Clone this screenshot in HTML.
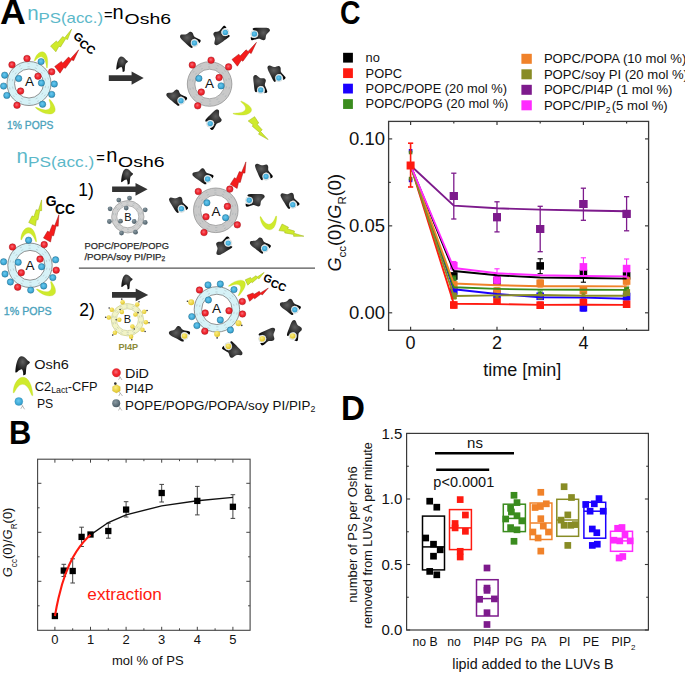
<!DOCTYPE html>
<html><head><meta charset="utf-8"><style>
html,body{margin:0;padding:0;background:#fff;width:685px;height:673px;overflow:hidden}
svg{display:block}
text{font-family:"Liberation Sans",sans-serif}
</style></head><body>
<svg width="685" height="673" viewBox="0 0 685 673" font-family="Liberation Sans, sans-serif">
<rect width="685" height="673" fill="#fff"/>
<g font-weight="bold" fill="#000">
<text x="0" y="23.6" font-size="35.7">A</text>
<text transform="translate(339.9,24.0) scale(0.845,1)" x="0" y="0" font-size="33.6">C</text>
<text transform="translate(9.0,443.9) scale(0.93,1)" x="0" y="0" font-size="33.2">B</text>
<text transform="translate(340.9,419.8) scale(0.96,1)" x="0" y="0" font-size="34.5">D</text>
</g>
<rect x="343.10" y="52.80" width="9.80" height="9.80" fill="#000000" stroke="none" stroke-width="1" />
<text x="365.60" y="62.10" font-size="12.85" fill="#111" text-anchor="start" >no</text>
<rect x="343.10" y="68.25" width="9.80" height="9.80" fill="#ff1a10" stroke="none" stroke-width="1" />
<text x="365.60" y="77.55" font-size="12.85" fill="#111" text-anchor="start" >POPC</text>
<rect x="343.10" y="83.70" width="9.80" height="9.80" fill="#1a00ff" stroke="none" stroke-width="1" />
<text x="365.60" y="93.00" font-size="12.85" fill="#111" text-anchor="start" >POPC/POPE (20 mol %)</text>
<rect x="343.10" y="99.15" width="9.80" height="9.80" fill="#3a8c1e" stroke="none" stroke-width="1" />
<text x="365.60" y="108.45" font-size="12.85" fill="#111" text-anchor="start" >POPC/POPG (20 mol %)</text>
<rect x="521.40" y="53.80" width="10.40" height="10.00" fill="#f0822a" stroke="none" stroke-width="1" />
<text x="543.90" y="63.10" font-size="13.1" fill="#111" text-anchor="start" >POPC/POPA (10 mol %)</text>
<rect x="521.40" y="69.30" width="10.40" height="10.00" fill="#888c25" stroke="none" stroke-width="1" />
<text x="543.90" y="78.60" font-size="13.1" fill="#111" text-anchor="start" >POPC/soy PI (20 mol %)</text>
<rect x="521.40" y="84.80" width="10.40" height="10.00" fill="#7d1a8c" stroke="none" stroke-width="1" />
<text x="543.90" y="94.10" font-size="13.1" fill="#111" text-anchor="start" >POPC/PI4P (1 mol %)</text>
<rect x="521.40" y="100.30" width="10.40" height="10.00" fill="#ff2bff" stroke="none" stroke-width="1" />
<text x="543.90" y="109.60" font-size="13.1" fill="#111" text-anchor="start" >POPC/PIP<tspan font-size="8.5" dy="3.5">2</tspan><tspan dy="-3.5" dx="1.2">(5 mol %)</tspan></text>
<rect x="388.60" y="121.40" width="260.00" height="208.90" fill="none" stroke="#3a3a3a" stroke-width="1.3" />
<line x1="410.60" y1="330.30" x2="410.60" y2="326.70" stroke="#3a3a3a" stroke-width="1.2" />
<line x1="410.60" y1="121.40" x2="410.60" y2="125.00" stroke="#3a3a3a" stroke-width="1.2" />
<line x1="453.80" y1="330.30" x2="453.80" y2="328.10" stroke="#3a3a3a" stroke-width="1.2" />
<line x1="453.80" y1="121.40" x2="453.80" y2="123.60" stroke="#3a3a3a" stroke-width="1.2" />
<line x1="497.00" y1="330.30" x2="497.00" y2="326.70" stroke="#3a3a3a" stroke-width="1.2" />
<line x1="497.00" y1="121.40" x2="497.00" y2="125.00" stroke="#3a3a3a" stroke-width="1.2" />
<line x1="540.20" y1="330.30" x2="540.20" y2="328.10" stroke="#3a3a3a" stroke-width="1.2" />
<line x1="540.20" y1="121.40" x2="540.20" y2="123.60" stroke="#3a3a3a" stroke-width="1.2" />
<line x1="583.40" y1="330.30" x2="583.40" y2="326.70" stroke="#3a3a3a" stroke-width="1.2" />
<line x1="583.40" y1="121.40" x2="583.40" y2="125.00" stroke="#3a3a3a" stroke-width="1.2" />
<line x1="626.60" y1="330.30" x2="626.60" y2="328.10" stroke="#3a3a3a" stroke-width="1.2" />
<line x1="626.60" y1="121.40" x2="626.60" y2="123.60" stroke="#3a3a3a" stroke-width="1.2" />
<line x1="388.60" y1="312.80" x2="392.20" y2="312.80" stroke="#3a3a3a" stroke-width="1.2" />
<line x1="648.60" y1="312.80" x2="645.00" y2="312.80" stroke="#3a3a3a" stroke-width="1.2" />
<line x1="388.60" y1="269.32" x2="390.80" y2="269.32" stroke="#3a3a3a" stroke-width="1.2" />
<line x1="648.60" y1="269.32" x2="646.40" y2="269.32" stroke="#3a3a3a" stroke-width="1.2" />
<line x1="388.60" y1="225.85" x2="392.20" y2="225.85" stroke="#3a3a3a" stroke-width="1.2" />
<line x1="648.60" y1="225.85" x2="645.00" y2="225.85" stroke="#3a3a3a" stroke-width="1.2" />
<line x1="388.60" y1="182.38" x2="390.80" y2="182.38" stroke="#3a3a3a" stroke-width="1.2" />
<line x1="648.60" y1="182.38" x2="646.40" y2="182.38" stroke="#3a3a3a" stroke-width="1.2" />
<line x1="388.60" y1="138.90" x2="392.20" y2="138.90" stroke="#3a3a3a" stroke-width="1.2" />
<line x1="648.60" y1="138.90" x2="645.00" y2="138.90" stroke="#3a3a3a" stroke-width="1.2" />
<text x="410.60" y="348.60" font-size="18" fill="#111" text-anchor="middle" >0</text>
<text x="497.00" y="348.60" font-size="18" fill="#111" text-anchor="middle" >2</text>
<text x="583.40" y="348.60" font-size="18" fill="#111" text-anchor="middle" >4</text>
<text x="385.00" y="319.10" font-size="18.5" fill="#111" text-anchor="end" >0.00</text>
<text x="385.00" y="232.15" font-size="18.5" fill="#111" text-anchor="end" >0.05</text>
<text x="385.00" y="145.20" font-size="18.5" fill="#111" text-anchor="end" >0.10</text>
<text x="522.20" y="375.60" font-size="18" fill="#111" text-anchor="middle" >time [min]</text>
<g transform="translate(341.2,271.6) rotate(-90)" fill="#111" font-size="18.2"><text x="0" y="0"><tspan font-style="italic">G</tspan><tspan font-size="11.5" dy="4.6">cc</tspan><tspan dy="-4.6">(0)/</tspan><tspan font-style="italic">G</tspan><tspan font-size="11.5" dy="4.6">R</tspan><tspan dy="-4.6">(0)</tspan></text></g>
<line x1="453.80" y1="273.00" x2="453.80" y2="280.00" stroke="#000000" stroke-width="1.1" />
<line x1="451.20" y1="273.00" x2="456.40" y2="273.00" stroke="#000000" stroke-width="1.1" />
<line x1="451.20" y1="280.00" x2="456.40" y2="280.00" stroke="#000000" stroke-width="1.1" />
<line x1="497.00" y1="276.50" x2="497.00" y2="284.50" stroke="#000000" stroke-width="1.1" />
<line x1="494.40" y1="276.50" x2="499.60" y2="276.50" stroke="#000000" stroke-width="1.1" />
<line x1="494.40" y1="284.50" x2="499.60" y2="284.50" stroke="#000000" stroke-width="1.1" />
<line x1="540.20" y1="258.80" x2="540.20" y2="273.70" stroke="#000000" stroke-width="1.1" />
<line x1="537.60" y1="258.80" x2="542.80" y2="258.80" stroke="#000000" stroke-width="1.1" />
<line x1="537.60" y1="273.70" x2="542.80" y2="273.70" stroke="#000000" stroke-width="1.1" />
<line x1="583.40" y1="266.60" x2="583.40" y2="282.20" stroke="#000000" stroke-width="1.1" />
<line x1="580.80" y1="266.60" x2="586.00" y2="266.60" stroke="#000000" stroke-width="1.1" />
<line x1="580.80" y1="282.20" x2="586.00" y2="282.20" stroke="#000000" stroke-width="1.1" />
<line x1="626.60" y1="272.00" x2="626.60" y2="280.00" stroke="#000000" stroke-width="1.1" />
<line x1="624.00" y1="272.00" x2="629.20" y2="272.00" stroke="#000000" stroke-width="1.1" />
<line x1="624.00" y1="280.00" x2="629.20" y2="280.00" stroke="#000000" stroke-width="1.1" />
<rect x="450.00" y="272.20" width="7.60" height="7.60" fill="#000000" stroke="none" stroke-width="1" />
<rect x="493.20" y="277.20" width="7.60" height="7.60" fill="#000000" stroke="none" stroke-width="1" />
<rect x="536.40" y="262.10" width="7.60" height="7.60" fill="#000000" stroke="none" stroke-width="1" />
<rect x="579.60" y="269.70" width="7.60" height="7.60" fill="#000000" stroke="none" stroke-width="1" />
<rect x="622.80" y="272.00" width="7.60" height="7.60" fill="#000000" stroke="none" stroke-width="1" />
<line x1="453.80" y1="302.00" x2="453.80" y2="308.00" stroke="#ff1a10" stroke-width="1.1" />
<line x1="451.20" y1="302.00" x2="456.40" y2="302.00" stroke="#ff1a10" stroke-width="1.1" />
<line x1="451.20" y1="308.00" x2="456.40" y2="308.00" stroke="#ff1a10" stroke-width="1.1" />
<line x1="497.00" y1="298.00" x2="497.00" y2="304.00" stroke="#ff1a10" stroke-width="1.1" />
<line x1="494.40" y1="298.00" x2="499.60" y2="298.00" stroke="#ff1a10" stroke-width="1.1" />
<line x1="494.40" y1="304.00" x2="499.60" y2="304.00" stroke="#ff1a10" stroke-width="1.1" />
<line x1="540.20" y1="302.00" x2="540.20" y2="308.00" stroke="#ff1a10" stroke-width="1.1" />
<line x1="537.60" y1="302.00" x2="542.80" y2="302.00" stroke="#ff1a10" stroke-width="1.1" />
<line x1="537.60" y1="308.00" x2="542.80" y2="308.00" stroke="#ff1a10" stroke-width="1.1" />
<line x1="583.40" y1="299.00" x2="583.40" y2="306.00" stroke="#ff1a10" stroke-width="1.1" />
<line x1="580.80" y1="299.00" x2="586.00" y2="299.00" stroke="#ff1a10" stroke-width="1.1" />
<line x1="580.80" y1="306.00" x2="586.00" y2="306.00" stroke="#ff1a10" stroke-width="1.1" />
<line x1="626.60" y1="301.00" x2="626.60" y2="307.00" stroke="#ff1a10" stroke-width="1.1" />
<line x1="624.00" y1="301.00" x2="629.20" y2="301.00" stroke="#ff1a10" stroke-width="1.1" />
<line x1="624.00" y1="307.00" x2="629.20" y2="307.00" stroke="#ff1a10" stroke-width="1.1" />
<rect x="450.00" y="301.20" width="7.60" height="7.60" fill="#ff1a10" stroke="none" stroke-width="1" />
<rect x="493.20" y="297.40" width="7.60" height="7.60" fill="#ff1a10" stroke="none" stroke-width="1" />
<rect x="536.40" y="301.40" width="7.60" height="7.60" fill="#ff1a10" stroke="none" stroke-width="1" />
<rect x="579.60" y="298.70" width="7.60" height="7.60" fill="#ff1a10" stroke="none" stroke-width="1" />
<rect x="622.80" y="300.40" width="7.60" height="7.60" fill="#ff1a10" stroke="none" stroke-width="1" />
<line x1="453.80" y1="288.00" x2="453.80" y2="294.00" stroke="#1a00ff" stroke-width="1.1" />
<line x1="451.20" y1="288.00" x2="456.40" y2="288.00" stroke="#1a00ff" stroke-width="1.1" />
<line x1="451.20" y1="294.00" x2="456.40" y2="294.00" stroke="#1a00ff" stroke-width="1.1" />
<line x1="497.00" y1="291.00" x2="497.00" y2="297.00" stroke="#1a00ff" stroke-width="1.1" />
<line x1="494.40" y1="291.00" x2="499.60" y2="291.00" stroke="#1a00ff" stroke-width="1.1" />
<line x1="494.40" y1="297.00" x2="499.60" y2="297.00" stroke="#1a00ff" stroke-width="1.1" />
<line x1="540.20" y1="293.00" x2="540.20" y2="299.00" stroke="#1a00ff" stroke-width="1.1" />
<line x1="537.60" y1="293.00" x2="542.80" y2="293.00" stroke="#1a00ff" stroke-width="1.1" />
<line x1="537.60" y1="299.00" x2="542.80" y2="299.00" stroke="#1a00ff" stroke-width="1.1" />
<line x1="583.40" y1="305.00" x2="583.40" y2="311.00" stroke="#1a00ff" stroke-width="1.1" />
<line x1="580.80" y1="305.00" x2="586.00" y2="305.00" stroke="#1a00ff" stroke-width="1.1" />
<line x1="580.80" y1="311.00" x2="586.00" y2="311.00" stroke="#1a00ff" stroke-width="1.1" />
<line x1="626.60" y1="293.50" x2="626.60" y2="299.50" stroke="#1a00ff" stroke-width="1.1" />
<line x1="624.00" y1="293.50" x2="629.20" y2="293.50" stroke="#1a00ff" stroke-width="1.1" />
<line x1="624.00" y1="299.50" x2="629.20" y2="299.50" stroke="#1a00ff" stroke-width="1.1" />
<rect x="450.00" y="287.20" width="7.60" height="7.60" fill="#1a00ff" stroke="none" stroke-width="1" />
<rect x="493.20" y="290.20" width="7.60" height="7.60" fill="#1a00ff" stroke="none" stroke-width="1" />
<rect x="536.40" y="292.50" width="7.60" height="7.60" fill="#1a00ff" stroke="none" stroke-width="1" />
<rect x="579.60" y="304.00" width="7.60" height="7.60" fill="#1a00ff" stroke="none" stroke-width="1" />
<rect x="622.80" y="292.70" width="7.60" height="7.60" fill="#1a00ff" stroke="none" stroke-width="1" />
<line x1="453.80" y1="276.00" x2="453.80" y2="282.00" stroke="#3a8c1e" stroke-width="1.1" />
<line x1="451.20" y1="276.00" x2="456.40" y2="276.00" stroke="#3a8c1e" stroke-width="1.1" />
<line x1="451.20" y1="282.00" x2="456.40" y2="282.00" stroke="#3a8c1e" stroke-width="1.1" />
<line x1="497.00" y1="288.00" x2="497.00" y2="294.00" stroke="#3a8c1e" stroke-width="1.1" />
<line x1="494.40" y1="288.00" x2="499.60" y2="288.00" stroke="#3a8c1e" stroke-width="1.1" />
<line x1="494.40" y1="294.00" x2="499.60" y2="294.00" stroke="#3a8c1e" stroke-width="1.1" />
<line x1="540.20" y1="291.00" x2="540.20" y2="297.00" stroke="#3a8c1e" stroke-width="1.1" />
<line x1="537.60" y1="291.00" x2="542.80" y2="291.00" stroke="#3a8c1e" stroke-width="1.1" />
<line x1="537.60" y1="297.00" x2="542.80" y2="297.00" stroke="#3a8c1e" stroke-width="1.1" />
<line x1="583.40" y1="287.00" x2="583.40" y2="293.00" stroke="#3a8c1e" stroke-width="1.1" />
<line x1="580.80" y1="287.00" x2="586.00" y2="287.00" stroke="#3a8c1e" stroke-width="1.1" />
<line x1="580.80" y1="293.00" x2="586.00" y2="293.00" stroke="#3a8c1e" stroke-width="1.1" />
<line x1="626.60" y1="287.00" x2="626.60" y2="292.00" stroke="#3a8c1e" stroke-width="1.1" />
<line x1="624.00" y1="287.00" x2="629.20" y2="287.00" stroke="#3a8c1e" stroke-width="1.1" />
<line x1="624.00" y1="292.00" x2="629.20" y2="292.00" stroke="#3a8c1e" stroke-width="1.1" />
<rect x="451.30" y="276.50" width="5.00" height="5.00" fill="#3a8c1e" stroke="none" stroke-width="1" />
<rect x="494.75" y="288.75" width="4.50" height="4.50" fill="#3a8c1e" stroke="none" stroke-width="1" />
<rect x="538.20" y="292.00" width="4.00" height="4.00" fill="#3a8c1e" stroke="none" stroke-width="1" />
<rect x="581.40" y="288.00" width="4.00" height="4.00" fill="#3a8c1e" stroke="none" stroke-width="1" />
<rect x="624.10" y="287.00" width="5.00" height="5.00" fill="#3a8c1e" stroke="none" stroke-width="1" />
<line x1="453.80" y1="282.00" x2="453.80" y2="288.00" stroke="#f0822a" stroke-width="1.1" />
<line x1="451.20" y1="282.00" x2="456.40" y2="282.00" stroke="#f0822a" stroke-width="1.1" />
<line x1="451.20" y1="288.00" x2="456.40" y2="288.00" stroke="#f0822a" stroke-width="1.1" />
<line x1="497.00" y1="288.00" x2="497.00" y2="295.00" stroke="#f0822a" stroke-width="1.1" />
<line x1="494.40" y1="288.00" x2="499.60" y2="288.00" stroke="#f0822a" stroke-width="1.1" />
<line x1="494.40" y1="295.00" x2="499.60" y2="295.00" stroke="#f0822a" stroke-width="1.1" />
<line x1="540.20" y1="280.00" x2="540.20" y2="287.00" stroke="#f0822a" stroke-width="1.1" />
<line x1="537.60" y1="280.00" x2="542.80" y2="280.00" stroke="#f0822a" stroke-width="1.1" />
<line x1="537.60" y1="287.00" x2="542.80" y2="287.00" stroke="#f0822a" stroke-width="1.1" />
<line x1="583.40" y1="287.00" x2="583.40" y2="294.00" stroke="#f0822a" stroke-width="1.1" />
<line x1="580.80" y1="287.00" x2="586.00" y2="287.00" stroke="#f0822a" stroke-width="1.1" />
<line x1="580.80" y1="294.00" x2="586.00" y2="294.00" stroke="#f0822a" stroke-width="1.1" />
<line x1="626.60" y1="277.00" x2="626.60" y2="285.00" stroke="#f0822a" stroke-width="1.1" />
<line x1="624.00" y1="277.00" x2="629.20" y2="277.00" stroke="#f0822a" stroke-width="1.1" />
<line x1="624.00" y1="285.00" x2="629.20" y2="285.00" stroke="#f0822a" stroke-width="1.1" />
<rect x="450.00" y="281.20" width="7.60" height="7.60" fill="#f0822a" stroke="none" stroke-width="1" />
<rect x="493.20" y="287.50" width="7.60" height="7.60" fill="#f0822a" stroke="none" stroke-width="1" />
<rect x="536.40" y="279.50" width="7.60" height="7.60" fill="#f0822a" stroke="none" stroke-width="1" />
<rect x="579.60" y="286.50" width="7.60" height="7.60" fill="#f0822a" stroke="none" stroke-width="1" />
<rect x="622.80" y="277.20" width="7.60" height="7.60" fill="#f0822a" stroke="none" stroke-width="1" />
<line x1="453.80" y1="293.00" x2="453.80" y2="299.00" stroke="#888c25" stroke-width="1.1" />
<line x1="451.20" y1="293.00" x2="456.40" y2="293.00" stroke="#888c25" stroke-width="1.1" />
<line x1="451.20" y1="299.00" x2="456.40" y2="299.00" stroke="#888c25" stroke-width="1.1" />
<line x1="497.00" y1="294.00" x2="497.00" y2="298.00" stroke="#888c25" stroke-width="1.1" />
<line x1="494.40" y1="294.00" x2="499.60" y2="294.00" stroke="#888c25" stroke-width="1.1" />
<line x1="494.40" y1="298.00" x2="499.60" y2="298.00" stroke="#888c25" stroke-width="1.1" />
<line x1="540.20" y1="294.00" x2="540.20" y2="299.00" stroke="#888c25" stroke-width="1.1" />
<line x1="537.60" y1="294.00" x2="542.80" y2="294.00" stroke="#888c25" stroke-width="1.1" />
<line x1="537.60" y1="299.00" x2="542.80" y2="299.00" stroke="#888c25" stroke-width="1.1" />
<line x1="583.40" y1="293.00" x2="583.40" y2="297.00" stroke="#888c25" stroke-width="1.1" />
<line x1="580.80" y1="293.00" x2="586.00" y2="293.00" stroke="#888c25" stroke-width="1.1" />
<line x1="580.80" y1="297.00" x2="586.00" y2="297.00" stroke="#888c25" stroke-width="1.1" />
<line x1="626.60" y1="290.00" x2="626.60" y2="295.00" stroke="#888c25" stroke-width="1.1" />
<line x1="624.00" y1="290.00" x2="629.20" y2="290.00" stroke="#888c25" stroke-width="1.1" />
<line x1="624.00" y1="295.00" x2="629.20" y2="295.00" stroke="#888c25" stroke-width="1.1" />
<rect x="450.80" y="293.00" width="6.00" height="6.00" fill="#888c25" stroke="none" stroke-width="1" />
<rect x="495.50" y="294.50" width="3.00" height="3.00" fill="#888c25" stroke="none" stroke-width="1" />
<rect x="537.70" y="294.00" width="5.00" height="5.00" fill="#888c25" stroke="none" stroke-width="1" />
<rect x="581.90" y="293.50" width="3.00" height="3.00" fill="#888c25" stroke="none" stroke-width="1" />
<rect x="623.10" y="289.10" width="7.00" height="7.00" fill="#888c25" stroke="none" stroke-width="1" />
<line x1="453.80" y1="173.20" x2="453.80" y2="219.00" stroke="#7d1a8c" stroke-width="1.3" />
<line x1="451.20" y1="173.20" x2="456.40" y2="173.20" stroke="#7d1a8c" stroke-width="1.3" />
<line x1="451.20" y1="219.00" x2="456.40" y2="219.00" stroke="#7d1a8c" stroke-width="1.3" />
<line x1="497.00" y1="201.80" x2="497.00" y2="231.90" stroke="#7d1a8c" stroke-width="1.3" />
<line x1="494.40" y1="201.80" x2="499.60" y2="201.80" stroke="#7d1a8c" stroke-width="1.3" />
<line x1="494.40" y1="231.90" x2="499.60" y2="231.90" stroke="#7d1a8c" stroke-width="1.3" />
<line x1="540.20" y1="206.30" x2="540.20" y2="251.70" stroke="#7d1a8c" stroke-width="1.3" />
<line x1="537.60" y1="206.30" x2="542.80" y2="206.30" stroke="#7d1a8c" stroke-width="1.3" />
<line x1="537.60" y1="251.70" x2="542.80" y2="251.70" stroke="#7d1a8c" stroke-width="1.3" />
<line x1="583.40" y1="188.20" x2="583.40" y2="220.30" stroke="#7d1a8c" stroke-width="1.3" />
<line x1="580.80" y1="188.20" x2="586.00" y2="188.20" stroke="#7d1a8c" stroke-width="1.3" />
<line x1="580.80" y1="220.30" x2="586.00" y2="220.30" stroke="#7d1a8c" stroke-width="1.3" />
<line x1="626.60" y1="196.70" x2="626.60" y2="230.80" stroke="#7d1a8c" stroke-width="1.3" />
<line x1="624.00" y1="196.70" x2="629.20" y2="196.70" stroke="#7d1a8c" stroke-width="1.3" />
<line x1="624.00" y1="230.80" x2="629.20" y2="230.80" stroke="#7d1a8c" stroke-width="1.3" />
<rect x="449.80" y="192.00" width="8.00" height="8.00" fill="#7d1a8c" stroke="none" stroke-width="1" />
<rect x="493.00" y="213.20" width="8.00" height="8.00" fill="#7d1a8c" stroke="none" stroke-width="1" />
<rect x="536.20" y="225.00" width="8.00" height="8.00" fill="#7d1a8c" stroke="none" stroke-width="1" />
<rect x="579.40" y="200.00" width="8.00" height="8.00" fill="#7d1a8c" stroke="none" stroke-width="1" />
<rect x="622.60" y="209.90" width="8.00" height="8.00" fill="#7d1a8c" stroke="none" stroke-width="1" />
<line x1="453.80" y1="261.50" x2="453.80" y2="270.00" stroke="#ff2bff" stroke-width="1.1" />
<line x1="451.20" y1="261.50" x2="456.40" y2="261.50" stroke="#ff2bff" stroke-width="1.1" />
<line x1="451.20" y1="270.00" x2="456.40" y2="270.00" stroke="#ff2bff" stroke-width="1.1" />
<line x1="497.00" y1="268.80" x2="497.00" y2="284.00" stroke="#ff2bff" stroke-width="1.1" />
<line x1="494.40" y1="268.80" x2="499.60" y2="268.80" stroke="#ff2bff" stroke-width="1.1" />
<line x1="494.40" y1="284.00" x2="499.60" y2="284.00" stroke="#ff2bff" stroke-width="1.1" />
<line x1="583.40" y1="257.80" x2="583.40" y2="276.00" stroke="#ff2bff" stroke-width="1.1" />
<line x1="580.80" y1="257.80" x2="586.00" y2="257.80" stroke="#ff2bff" stroke-width="1.1" />
<line x1="580.80" y1="276.00" x2="586.00" y2="276.00" stroke="#ff2bff" stroke-width="1.1" />
<line x1="626.60" y1="259.00" x2="626.60" y2="278.00" stroke="#ff2bff" stroke-width="1.1" />
<line x1="624.00" y1="259.00" x2="629.20" y2="259.00" stroke="#ff2bff" stroke-width="1.1" />
<line x1="624.00" y1="278.00" x2="629.20" y2="278.00" stroke="#ff2bff" stroke-width="1.1" />
<rect x="450.00" y="261.90" width="7.60" height="7.60" fill="#ff2bff" stroke="none" stroke-width="1" />
<rect x="493.20" y="276.20" width="7.60" height="7.60" fill="#ff2bff" stroke="none" stroke-width="1" />
<rect x="579.60" y="263.10" width="7.60" height="7.60" fill="#ff2bff" stroke="none" stroke-width="1" />
<rect x="622.80" y="264.80" width="7.60" height="7.60" fill="#ff2bff" stroke="none" stroke-width="1" />
<polyline points="410.60,165.50 453.80,271.00 497.00,275.30 540.20,277.50 583.40,278.00 626.60,278.60" fill="none" stroke="#000000" stroke-width="1.9" stroke-linejoin="round"/>
<polyline points="410.60,165.50 453.80,303.80 497.00,304.10 540.20,304.90 583.40,304.70 626.60,304.90" fill="none" stroke="#ff1a10" stroke-width="1.9" stroke-linejoin="round"/>
<polyline points="410.60,165.50 453.80,289.30 497.00,294.00 540.20,297.30 583.40,297.60 626.60,298.70" fill="none" stroke="#1a00ff" stroke-width="1.9" stroke-linejoin="round"/>
<polyline points="410.60,165.50 453.80,287.30 497.00,288.90 540.20,289.60 583.40,289.70 626.60,289.90" fill="none" stroke="#3a8c1e" stroke-width="1.9" stroke-linejoin="round"/>
<polyline points="410.60,165.50 453.80,283.50 497.00,285.30 540.20,286.20 583.40,286.20 626.60,286.40" fill="none" stroke="#f0822a" stroke-width="1.9" stroke-linejoin="round"/>
<polyline points="410.60,165.50 453.80,296.00 497.00,295.40 540.20,295.00 583.40,295.80 626.60,295.80" fill="none" stroke="#888c25" stroke-width="1.9" stroke-linejoin="round"/>
<polyline points="410.60,165.50 453.80,205.60 497.00,208.30 540.20,209.60 583.40,210.50 626.60,211.20" fill="none" stroke="#7d1a8c" stroke-width="1.9" stroke-linejoin="round"/>
<polyline points="410.60,165.50 453.80,268.00 497.00,273.20 540.20,275.30 583.40,276.00 626.60,276.40" fill="none" stroke="#ff2bff" stroke-width="1.9" stroke-linejoin="round"/>
<rect x="449.80" y="192.00" width="8.00" height="8.00" fill="#7d1a8c" stroke="none" stroke-width="1" />
<rect x="493.00" y="213.20" width="8.00" height="8.00" fill="#7d1a8c" stroke="none" stroke-width="1" />
<rect x="536.20" y="225.00" width="8.00" height="8.00" fill="#7d1a8c" stroke="none" stroke-width="1" />
<rect x="579.40" y="200.00" width="8.00" height="8.00" fill="#7d1a8c" stroke="none" stroke-width="1" />
<rect x="622.60" y="209.90" width="8.00" height="8.00" fill="#7d1a8c" stroke="none" stroke-width="1" />
<rect x="408.80" y="149.00" width="3.60" height="3.60" fill="#1a00ff" stroke="none" stroke-width="1" />
<rect x="408.80" y="150.70" width="3.60" height="3.60" fill="#3a8c1e" stroke="none" stroke-width="1" />
<rect x="408.80" y="178.60" width="3.60" height="3.60" fill="#1a00ff" stroke="none" stroke-width="1" />
<rect x="408.80" y="176.80" width="3.60" height="3.60" fill="#3a8c1e" stroke="none" stroke-width="1" />
<line x1="410.60" y1="143.20" x2="410.60" y2="187.00" stroke="#ff1a10" stroke-width="1.6" />
<line x1="408.00" y1="143.20" x2="413.20" y2="143.20" stroke="#ff1a10" stroke-width="1.6" />
<line x1="408.00" y1="187.00" x2="413.20" y2="187.00" stroke="#ff1a10" stroke-width="1.6" />
<rect x="406.60" y="161.50" width="8.00" height="8.00" fill="#ff1a10" stroke="none" stroke-width="1" />
<rect x="406.60" y="433.40" width="241.80" height="196.60" fill="none" stroke="#3a3a3a" stroke-width="1.2" />
<line x1="406.60" y1="630.00" x2="410.10" y2="630.00" stroke="#3a3a3a" stroke-width="1.1" />
<line x1="648.40" y1="630.00" x2="644.90" y2="630.00" stroke="#3a3a3a" stroke-width="1.1" />
<line x1="406.60" y1="597.25" x2="408.80" y2="597.25" stroke="#3a3a3a" stroke-width="1.1" />
<line x1="648.40" y1="597.25" x2="646.20" y2="597.25" stroke="#3a3a3a" stroke-width="1.1" />
<line x1="406.60" y1="564.50" x2="410.10" y2="564.50" stroke="#3a3a3a" stroke-width="1.1" />
<line x1="648.40" y1="564.50" x2="644.90" y2="564.50" stroke="#3a3a3a" stroke-width="1.1" />
<line x1="406.60" y1="531.75" x2="408.80" y2="531.75" stroke="#3a3a3a" stroke-width="1.1" />
<line x1="648.40" y1="531.75" x2="646.20" y2="531.75" stroke="#3a3a3a" stroke-width="1.1" />
<line x1="406.60" y1="499.00" x2="410.10" y2="499.00" stroke="#3a3a3a" stroke-width="1.1" />
<line x1="648.40" y1="499.00" x2="644.90" y2="499.00" stroke="#3a3a3a" stroke-width="1.1" />
<line x1="406.60" y1="466.25" x2="408.80" y2="466.25" stroke="#3a3a3a" stroke-width="1.1" />
<line x1="648.40" y1="466.25" x2="646.20" y2="466.25" stroke="#3a3a3a" stroke-width="1.1" />
<line x1="406.60" y1="433.50" x2="410.10" y2="433.50" stroke="#3a3a3a" stroke-width="1.1" />
<line x1="648.40" y1="433.50" x2="644.90" y2="433.50" stroke="#3a3a3a" stroke-width="1.1" />
<text x="402.40" y="635.40" font-size="15" fill="#111" text-anchor="end" >0.0</text>
<text x="402.40" y="569.90" font-size="15" fill="#111" text-anchor="end" >0.5</text>
<text x="402.40" y="504.40" font-size="15" fill="#111" text-anchor="end" >1.0</text>
<text x="402.40" y="438.90" font-size="15" fill="#111" text-anchor="end" >1.5</text>
<line x1="435.00" y1="453.20" x2="514.00" y2="453.20" stroke="#000" stroke-width="2.4" />
<line x1="436.20" y1="469.80" x2="489.20" y2="469.80" stroke="#000" stroke-width="2.4" />
<text x="475.00" y="448.10" font-size="15" fill="#111" text-anchor="middle" >ns</text>
<text x="463.80" y="486.80" font-size="14.5" fill="#111" text-anchor="middle" >p&lt;0.0001</text>
<rect x="422.50" y="516.10" width="22.00" height="53.80" fill="none" stroke="#000000" stroke-width="1.5" />
<line x1="422.50" y1="546.90" x2="444.50" y2="546.90" stroke="#000000" stroke-width="1.5" />
<rect x="449.50" y="509.60" width="21.90" height="40.00" fill="none" stroke="#ff1a10" stroke-width="1.5" />
<line x1="449.50" y1="527.90" x2="471.40" y2="527.90" stroke="#ff1a10" stroke-width="1.5" />
<rect x="476.50" y="579.70" width="21.60" height="36.30" fill="none" stroke="#7d1a8c" stroke-width="1.5" />
<line x1="476.50" y1="598.60" x2="498.10" y2="598.60" stroke="#7d1a8c" stroke-width="1.5" />
<rect x="503.30" y="504.20" width="22.10" height="27.40" fill="none" stroke="#3a8c1e" stroke-width="1.5" />
<line x1="503.30" y1="518.40" x2="525.40" y2="518.40" stroke="#3a8c1e" stroke-width="1.5" />
<rect x="530.10" y="503.00" width="21.80" height="36.50" fill="none" stroke="#f0822a" stroke-width="1.5" />
<line x1="530.10" y1="523.00" x2="551.90" y2="523.00" stroke="#f0822a" stroke-width="1.5" />
<rect x="556.80" y="499.30" width="21.80" height="37.00" fill="none" stroke="#888c25" stroke-width="1.5" />
<line x1="556.80" y1="520.00" x2="578.60" y2="520.00" stroke="#888c25" stroke-width="1.5" />
<rect x="583.90" y="502.30" width="21.80" height="35.90" fill="none" stroke="#1a00ff" stroke-width="1.5" />
<line x1="583.90" y1="511.20" x2="605.70" y2="511.20" stroke="#1a00ff" stroke-width="1.5" />
<rect x="610.50" y="531.30" width="22.00" height="20.00" fill="none" stroke="#ff2bff" stroke-width="1.5" />
<line x1="610.50" y1="540.90" x2="632.50" y2="540.90" stroke="#ff2bff" stroke-width="1.5" />
<rect x="426.35" y="497.85" width="6.70" height="6.70" fill="#000000" stroke="none" stroke-width="1" />
<rect x="433.45" y="503.85" width="6.70" height="6.70" fill="#000000" stroke="none" stroke-width="1" />
<rect x="422.35" y="534.65" width="6.70" height="6.70" fill="#000000" stroke="none" stroke-width="1" />
<rect x="430.15" y="540.85" width="6.70" height="6.70" fill="#000000" stroke="none" stroke-width="1" />
<rect x="436.85" y="546.45" width="6.70" height="6.70" fill="#000000" stroke="none" stroke-width="1" />
<rect x="430.15" y="552.85" width="6.70" height="6.70" fill="#000000" stroke="none" stroke-width="1" />
<rect x="426.35" y="568.05" width="6.70" height="6.70" fill="#000000" stroke="none" stroke-width="1" />
<rect x="433.45" y="571.45" width="6.70" height="6.70" fill="#000000" stroke="none" stroke-width="1" />
<rect x="456.85" y="496.25" width="6.70" height="6.70" fill="#ff1a10" stroke="none" stroke-width="1" />
<rect x="462.05" y="511.65" width="6.70" height="6.70" fill="#ff1a10" stroke="none" stroke-width="1" />
<rect x="451.75" y="520.15" width="6.70" height="6.70" fill="#ff1a10" stroke="none" stroke-width="1" />
<rect x="451.75" y="524.55" width="6.70" height="6.70" fill="#ff1a10" stroke="none" stroke-width="1" />
<rect x="462.05" y="527.95" width="6.70" height="6.70" fill="#ff1a10" stroke="none" stroke-width="1" />
<rect x="456.85" y="547.95" width="6.70" height="6.70" fill="#ff1a10" stroke="none" stroke-width="1" />
<rect x="456.85" y="553.65" width="6.70" height="6.70" fill="#ff1a10" stroke="none" stroke-width="1" />
<rect x="483.65" y="564.65" width="6.70" height="6.70" fill="#7d1a8c" stroke="none" stroke-width="1" />
<rect x="483.65" y="584.75" width="6.70" height="6.70" fill="#7d1a8c" stroke="none" stroke-width="1" />
<rect x="483.65" y="587.05" width="6.70" height="6.70" fill="#7d1a8c" stroke="none" stroke-width="1" />
<rect x="476.25" y="595.95" width="6.70" height="6.70" fill="#7d1a8c" stroke="none" stroke-width="1" />
<rect x="491.05" y="595.55" width="6.70" height="6.70" fill="#7d1a8c" stroke="none" stroke-width="1" />
<rect x="483.65" y="609.35" width="6.70" height="6.70" fill="#7d1a8c" stroke="none" stroke-width="1" />
<rect x="483.65" y="621.15" width="6.70" height="6.70" fill="#7d1a8c" stroke="none" stroke-width="1" />
<rect x="510.65" y="491.95" width="6.70" height="6.70" fill="#3a8c1e" stroke="none" stroke-width="1" />
<rect x="513.65" y="499.25" width="6.70" height="6.70" fill="#3a8c1e" stroke="none" stroke-width="1" />
<rect x="507.25" y="504.95" width="6.70" height="6.70" fill="#3a8c1e" stroke="none" stroke-width="1" />
<rect x="508.05" y="508.65" width="6.70" height="6.70" fill="#3a8c1e" stroke="none" stroke-width="1" />
<rect x="513.65" y="512.35" width="6.70" height="6.70" fill="#3a8c1e" stroke="none" stroke-width="1" />
<rect x="502.35" y="515.65" width="6.70" height="6.70" fill="#3a8c1e" stroke="none" stroke-width="1" />
<rect x="518.45" y="517.55" width="6.70" height="6.70" fill="#3a8c1e" stroke="none" stroke-width="1" />
<rect x="507.25" y="524.25" width="6.70" height="6.70" fill="#3a8c1e" stroke="none" stroke-width="1" />
<rect x="513.65" y="526.45" width="6.70" height="6.70" fill="#3a8c1e" stroke="none" stroke-width="1" />
<rect x="510.65" y="537.95" width="6.70" height="6.70" fill="#3a8c1e" stroke="none" stroke-width="1" />
<rect x="537.45" y="488.95" width="6.70" height="6.70" fill="#f0822a" stroke="none" stroke-width="1" />
<rect x="542.95" y="500.45" width="6.70" height="6.70" fill="#f0822a" stroke="none" stroke-width="1" />
<rect x="531.75" y="504.15" width="6.70" height="6.70" fill="#f0822a" stroke="none" stroke-width="1" />
<rect x="537.05" y="503.15" width="6.70" height="6.70" fill="#f0822a" stroke="none" stroke-width="1" />
<rect x="537.45" y="515.35" width="6.70" height="6.70" fill="#f0822a" stroke="none" stroke-width="1" />
<rect x="539.95" y="522.75" width="6.70" height="6.70" fill="#f0822a" stroke="none" stroke-width="1" />
<rect x="529.55" y="528.65" width="6.70" height="6.70" fill="#f0822a" stroke="none" stroke-width="1" />
<rect x="545.15" y="528.65" width="6.70" height="6.70" fill="#f0822a" stroke="none" stroke-width="1" />
<rect x="534.75" y="534.65" width="6.70" height="6.70" fill="#f0822a" stroke="none" stroke-width="1" />
<rect x="537.45" y="547.75" width="6.70" height="6.70" fill="#f0822a" stroke="none" stroke-width="1" />
<rect x="560.75" y="483.35" width="6.70" height="6.70" fill="#888c25" stroke="none" stroke-width="1" />
<rect x="568.15" y="494.15" width="6.70" height="6.70" fill="#888c25" stroke="none" stroke-width="1" />
<rect x="564.45" y="511.55" width="6.70" height="6.70" fill="#888c25" stroke="none" stroke-width="1" />
<rect x="557.75" y="516.75" width="6.70" height="6.70" fill="#888c25" stroke="none" stroke-width="1" />
<rect x="560.75" y="521.95" width="6.70" height="6.70" fill="#888c25" stroke="none" stroke-width="1" />
<rect x="567.45" y="521.95" width="6.70" height="6.70" fill="#888c25" stroke="none" stroke-width="1" />
<rect x="571.95" y="521.25" width="6.70" height="6.70" fill="#888c25" stroke="none" stroke-width="1" />
<rect x="564.45" y="542.05" width="6.70" height="6.70" fill="#888c25" stroke="none" stroke-width="1" />
<rect x="595.65" y="495.25" width="6.70" height="6.70" fill="#1a00ff" stroke="none" stroke-width="1" />
<rect x="582.35" y="501.15" width="6.70" height="6.70" fill="#1a00ff" stroke="none" stroke-width="1" />
<rect x="590.95" y="500.45" width="6.70" height="6.70" fill="#1a00ff" stroke="none" stroke-width="1" />
<rect x="586.75" y="507.85" width="6.70" height="6.70" fill="#1a00ff" stroke="none" stroke-width="1" />
<rect x="599.85" y="507.85" width="6.70" height="6.70" fill="#1a00ff" stroke="none" stroke-width="1" />
<rect x="588.95" y="525.65" width="6.70" height="6.70" fill="#1a00ff" stroke="none" stroke-width="1" />
<rect x="593.45" y="529.35" width="6.70" height="6.70" fill="#1a00ff" stroke="none" stroke-width="1" />
<rect x="588.95" y="542.05" width="6.70" height="6.70" fill="#1a00ff" stroke="none" stroke-width="1" />
<rect x="593.95" y="540.85" width="6.70" height="6.70" fill="#1a00ff" stroke="none" stroke-width="1" />
<rect x="614.25" y="524.95" width="6.70" height="6.70" fill="#ff2bff" stroke="none" stroke-width="1" />
<rect x="618.65" y="524.15" width="6.70" height="6.70" fill="#ff2bff" stroke="none" stroke-width="1" />
<rect x="621.65" y="531.65" width="6.70" height="6.70" fill="#ff2bff" stroke="none" stroke-width="1" />
<rect x="610.55" y="536.85" width="6.70" height="6.70" fill="#ff2bff" stroke="none" stroke-width="1" />
<rect x="616.45" y="537.55" width="6.70" height="6.70" fill="#ff2bff" stroke="none" stroke-width="1" />
<rect x="626.85" y="537.55" width="6.70" height="6.70" fill="#ff2bff" stroke="none" stroke-width="1" />
<rect x="619.45" y="553.15" width="6.70" height="6.70" fill="#ff2bff" stroke="none" stroke-width="1" />
<rect x="615.75" y="554.65" width="6.70" height="6.70" fill="#ff2bff" stroke="none" stroke-width="1" />
<text x="425.00" y="646.30" font-size="12.2" fill="#111" text-anchor="middle" >no B</text>
<text x="454.00" y="646.30" font-size="12.2" fill="#111" text-anchor="middle" >no</text>
<text x="486.40" y="646.30" font-size="12.2" fill="#111" text-anchor="middle" >PI4P</text>
<text x="513.90" y="646.30" font-size="12.2" fill="#111" text-anchor="middle" >PG</text>
<text x="538.70" y="646.30" font-size="12.2" fill="#111" text-anchor="middle" >PA</text>
<text x="564.70" y="646.30" font-size="12.2" fill="#111" text-anchor="middle" >PI</text>
<text x="590.90" y="646.30" font-size="12.2" fill="#111" text-anchor="middle" >PE</text>
<text x="611.40" y="646.30" font-size="12.2" fill="#111" text-anchor="start" >PIP<tspan font-size="8" dy="4">2</tspan></text>
<text x="532.90" y="669.00" font-size="14.3" fill="#111" text-anchor="middle" >lipid added to the LUVs B</text>
<g transform="rotate(-90)" fill="#111" font-size="12.3" text-anchor="middle"><text x="-534.5" y="357.0" font-size="13">number of PS per Osh6</text><text x="-535.2" y="372.4" font-size="12.65">removed from LUVs A per minute</text></g>
<rect x="37.60" y="459.20" width="212.50" height="171.10" fill="none" stroke="#444" stroke-width="1.1" />
<line x1="54.90" y1="630.30" x2="54.90" y2="626.80" stroke="#444" stroke-width="1.0" />
<line x1="54.90" y1="459.20" x2="54.90" y2="462.70" stroke="#444" stroke-width="1.0" />
<line x1="72.70" y1="630.30" x2="72.70" y2="628.30" stroke="#444" stroke-width="1.0" />
<line x1="72.70" y1="459.20" x2="72.70" y2="461.20" stroke="#444" stroke-width="1.0" />
<line x1="90.50" y1="630.30" x2="90.50" y2="626.80" stroke="#444" stroke-width="1.0" />
<line x1="90.50" y1="459.20" x2="90.50" y2="462.70" stroke="#444" stroke-width="1.0" />
<line x1="108.30" y1="630.30" x2="108.30" y2="628.30" stroke="#444" stroke-width="1.0" />
<line x1="108.30" y1="459.20" x2="108.30" y2="461.20" stroke="#444" stroke-width="1.0" />
<line x1="126.10" y1="630.30" x2="126.10" y2="626.80" stroke="#444" stroke-width="1.0" />
<line x1="126.10" y1="459.20" x2="126.10" y2="462.70" stroke="#444" stroke-width="1.0" />
<line x1="143.90" y1="630.30" x2="143.90" y2="628.30" stroke="#444" stroke-width="1.0" />
<line x1="143.90" y1="459.20" x2="143.90" y2="461.20" stroke="#444" stroke-width="1.0" />
<line x1="161.70" y1="630.30" x2="161.70" y2="626.80" stroke="#444" stroke-width="1.0" />
<line x1="161.70" y1="459.20" x2="161.70" y2="462.70" stroke="#444" stroke-width="1.0" />
<line x1="179.50" y1="630.30" x2="179.50" y2="628.30" stroke="#444" stroke-width="1.0" />
<line x1="179.50" y1="459.20" x2="179.50" y2="461.20" stroke="#444" stroke-width="1.0" />
<line x1="197.30" y1="630.30" x2="197.30" y2="626.80" stroke="#444" stroke-width="1.0" />
<line x1="197.30" y1="459.20" x2="197.30" y2="462.70" stroke="#444" stroke-width="1.0" />
<line x1="215.10" y1="630.30" x2="215.10" y2="628.30" stroke="#444" stroke-width="1.0" />
<line x1="215.10" y1="459.20" x2="215.10" y2="461.20" stroke="#444" stroke-width="1.0" />
<line x1="232.90" y1="630.30" x2="232.90" y2="626.80" stroke="#444" stroke-width="1.0" />
<line x1="232.90" y1="459.20" x2="232.90" y2="462.70" stroke="#444" stroke-width="1.0" />
<line x1="37.60" y1="605.80" x2="39.60" y2="605.80" stroke="#444" stroke-width="1.0" />
<line x1="250.10" y1="605.80" x2="248.10" y2="605.80" stroke="#444" stroke-width="1.0" />
<line x1="37.60" y1="581.30" x2="41.40" y2="581.30" stroke="#444" stroke-width="1.0" />
<line x1="250.10" y1="581.30" x2="246.30" y2="581.30" stroke="#444" stroke-width="1.0" />
<line x1="37.60" y1="556.80" x2="39.60" y2="556.80" stroke="#444" stroke-width="1.0" />
<line x1="250.10" y1="556.80" x2="248.10" y2="556.80" stroke="#444" stroke-width="1.0" />
<line x1="37.60" y1="532.30" x2="41.40" y2="532.30" stroke="#444" stroke-width="1.0" />
<line x1="250.10" y1="532.30" x2="246.30" y2="532.30" stroke="#444" stroke-width="1.0" />
<line x1="37.60" y1="507.80" x2="39.60" y2="507.80" stroke="#444" stroke-width="1.0" />
<line x1="250.10" y1="507.80" x2="248.10" y2="507.80" stroke="#444" stroke-width="1.0" />
<line x1="37.60" y1="483.30" x2="41.40" y2="483.30" stroke="#444" stroke-width="1.0" />
<line x1="250.10" y1="483.30" x2="246.30" y2="483.30" stroke="#444" stroke-width="1.0" />
<text x="54.90" y="644.40" font-size="13" fill="#111" text-anchor="middle" >0</text>
<text x="90.50" y="644.40" font-size="13" fill="#111" text-anchor="middle" >1</text>
<text x="126.10" y="644.40" font-size="13" fill="#111" text-anchor="middle" >2</text>
<text x="161.70" y="644.40" font-size="13" fill="#111" text-anchor="middle" >3</text>
<text x="197.30" y="644.40" font-size="13" fill="#111" text-anchor="middle" >4</text>
<text x="232.90" y="644.40" font-size="13" fill="#111" text-anchor="middle" >5</text>
<text x="147.80" y="664.80" font-size="13" fill="#111" text-anchor="middle" >mol % of PS</text>
<g transform="translate(11.6,577.3) rotate(-90)" fill="#111" font-size="13"><text x="0" y="0"><tspan font-style="italic">G</tspan><tspan font-size="8.2" dy="5.4">cc</tspan><tspan dy="-5.4">(0)/</tspan><tspan font-style="italic">G</tspan><tspan font-size="8.2" dy="5.4">R</tspan><tspan dy="-5.4">(0)</tspan></text></g>
<text x="124.60" y="599.80" font-size="17.2" fill="#ff1a10" text-anchor="middle" >extraction</text>
<line x1="63.80" y1="564.30" x2="63.80" y2="576.50" stroke="#444" stroke-width="1.0" />
<line x1="61.50" y1="564.30" x2="66.10" y2="564.30" stroke="#444" stroke-width="1.0" />
<line x1="61.50" y1="576.50" x2="66.10" y2="576.50" stroke="#444" stroke-width="1.0" />
<line x1="72.70" y1="558.80" x2="72.70" y2="583.00" stroke="#444" stroke-width="1.0" />
<line x1="70.40" y1="558.80" x2="75.00" y2="558.80" stroke="#444" stroke-width="1.0" />
<line x1="70.40" y1="583.00" x2="75.00" y2="583.00" stroke="#444" stroke-width="1.0" />
<line x1="81.60" y1="527.20" x2="81.60" y2="546.50" stroke="#444" stroke-width="1.0" />
<line x1="79.30" y1="527.20" x2="83.90" y2="527.20" stroke="#444" stroke-width="1.0" />
<line x1="79.30" y1="546.50" x2="83.90" y2="546.50" stroke="#444" stroke-width="1.0" />
<line x1="108.30" y1="523.30" x2="108.30" y2="538.20" stroke="#444" stroke-width="1.0" />
<line x1="106.00" y1="523.30" x2="110.60" y2="523.30" stroke="#444" stroke-width="1.0" />
<line x1="106.00" y1="538.20" x2="110.60" y2="538.20" stroke="#444" stroke-width="1.0" />
<line x1="126.10" y1="501.70" x2="126.10" y2="517.00" stroke="#444" stroke-width="1.0" />
<line x1="123.80" y1="501.70" x2="128.40" y2="501.70" stroke="#444" stroke-width="1.0" />
<line x1="123.80" y1="517.00" x2="128.40" y2="517.00" stroke="#444" stroke-width="1.0" />
<line x1="161.70" y1="484.40" x2="161.70" y2="502.00" stroke="#444" stroke-width="1.0" />
<line x1="159.40" y1="484.40" x2="164.00" y2="484.40" stroke="#444" stroke-width="1.0" />
<line x1="159.40" y1="502.00" x2="164.00" y2="502.00" stroke="#444" stroke-width="1.0" />
<line x1="197.30" y1="486.40" x2="197.30" y2="514.90" stroke="#444" stroke-width="1.0" />
<line x1="195.00" y1="486.40" x2="199.60" y2="486.40" stroke="#444" stroke-width="1.0" />
<line x1="195.00" y1="514.90" x2="199.60" y2="514.90" stroke="#444" stroke-width="1.0" />
<line x1="232.90" y1="494.70" x2="232.90" y2="518.40" stroke="#444" stroke-width="1.0" />
<line x1="230.60" y1="494.70" x2="235.20" y2="494.70" stroke="#444" stroke-width="1.0" />
<line x1="230.60" y1="518.40" x2="235.20" y2="518.40" stroke="#444" stroke-width="1.0" />
<polyline points="90.50,534.83 108.30,522.53 126.10,514.87 161.70,505.84 197.30,500.69 232.90,497.37" fill="none" stroke="#111" stroke-width="1.4"/>
<rect x="51.75" y="612.85" width="6.30" height="6.30" fill="#000" stroke="none" stroke-width="1" />
<rect x="60.65" y="567.45" width="6.30" height="6.30" fill="#000" stroke="none" stroke-width="1" />
<rect x="69.55" y="567.85" width="6.30" height="6.30" fill="#000" stroke="none" stroke-width="1" />
<rect x="78.45" y="533.75" width="6.30" height="6.30" fill="#000" stroke="none" stroke-width="1" />
<rect x="87.35" y="531.35" width="6.30" height="6.30" fill="#000" stroke="none" stroke-width="1" />
<rect x="105.15" y="527.85" width="6.30" height="6.30" fill="#000" stroke="none" stroke-width="1" />
<rect x="122.95" y="506.45" width="6.30" height="6.30" fill="#000" stroke="none" stroke-width="1" />
<rect x="158.55" y="489.85" width="6.30" height="6.30" fill="#000" stroke="none" stroke-width="1" />
<rect x="194.15" y="497.75" width="6.30" height="6.30" fill="#000" stroke="none" stroke-width="1" />
<rect x="229.75" y="503.65" width="6.30" height="6.30" fill="#000" stroke="none" stroke-width="1" />
<polyline points="54.90,616.00 56.68,606.45 58.46,598.17 62.02,584.52 65.58,573.74 69.14,565.01 72.70,557.80 76.26,551.73 79.82,546.57 83.38,542.12 86.94,538.24 90.50,534.83" fill="none" stroke="#ff1a10" stroke-width="2.1"/>
<defs>
<radialGradient id="gRed" cx="0.45" cy="0.42" r="0.6"><stop offset="0" stop-color="#f2707c"/><stop offset="0.5" stop-color="#f42a32"/><stop offset="1" stop-color="#e41a22"/></radialGradient>
<radialGradient id="gBlue" cx="0.45" cy="0.42" r="0.6"><stop offset="0" stop-color="#6cc8ee"/><stop offset="0.55" stop-color="#46b0dc"/><stop offset="1" stop-color="#3098c6"/></radialGradient>
<radialGradient id="gGray" cx="0.4" cy="0.35" r="0.65"><stop offset="0" stop-color="#8a9aa2"/><stop offset="1" stop-color="#4a5c66"/></radialGradient>
<radialGradient id="gYel" cx="0.4" cy="0.35" r="0.65"><stop offset="0" stop-color="#fbee80"/><stop offset="1" stop-color="#e0c42a"/></radialGradient>
<radialGradient id="gOsh" cx="0.35" cy="0.3" r="0.75"><stop offset="0" stop-color="#5e5e5e"/><stop offset="0.55" stop-color="#262626"/><stop offset="1" stop-color="#000"/></radialGradient>
<radialGradient id="gOsh2" cx="0.5" cy="0.3" r="0.7"><stop offset="0" stop-color="#606060"/><stop offset="0.6" stop-color="#222"/><stop offset="1" stop-color="#000"/></radialGradient>
</defs>
<text x="27.2" y="19.7" font-size="20.5" fill="#5bb8c9">n</text>
<text x="38.5" y="23.4" font-size="14.2" fill="#5bb8c9" textLength="64.5" lengthAdjust="spacingAndGlyphs">PS(acc.)</text>
<text x="104.0" y="19.6" font-size="14.5" fill="#000" textLength="8.6" lengthAdjust="spacingAndGlyphs">=</text>
<text x="112.6" y="18.9" font-size="20" fill="#000">n</text>
<text x="124.6" y="23.8" font-size="15.4" fill="#000" textLength="46.4" lengthAdjust="spacingAndGlyphs">Osh6</text>
<text x="16.5" y="163.2" font-size="20.5" fill="#5bb8c9">n</text>
<text x="28.0" y="166.9" font-size="14.2" fill="#5bb8c9" textLength="66.2" lengthAdjust="spacingAndGlyphs">PS(acc.)</text>
<text x="96.3" y="163.1" font-size="14.5" fill="#000" textLength="8.6" lengthAdjust="spacingAndGlyphs">=</text>
<text x="106.2" y="162.4" font-size="20" fill="#000">n</text>
<text x="118.1" y="167.3" font-size="15.4" fill="#000" textLength="46.4" lengthAdjust="spacingAndGlyphs">Osh6</text>
<circle cx="29" cy="83.5" r="22" fill="#d6f2f7" stroke="#666" stroke-width="0.7"/>
<line x1="45.63" y1="85.75" x2="45.20" y2="87.91" stroke="#8a9aa0" stroke-width="0.35"/>
<line x1="48.57" y1="86.35" x2="48.14" y2="88.50" stroke="#8a9aa0" stroke-width="0.35"/>
<line x1="43.01" y1="92.74" x2="41.68" y2="94.50" stroke="#8a9aa0" stroke-width="0.35"/>
<line x1="45.40" y1="94.56" x2="44.07" y2="96.31" stroke="#8a9aa0" stroke-width="0.35"/>
<line x1="37.61" y1="97.91" x2="35.65" y2="98.91" stroke="#8a9aa0" stroke-width="0.35"/>
<line x1="38.98" y1="100.58" x2="37.02" y2="101.58" stroke="#8a9aa0" stroke-width="0.35"/>
<line x1="30.51" y1="100.22" x2="28.31" y2="100.27" stroke="#8a9aa0" stroke-width="0.35"/>
<line x1="30.58" y1="103.22" x2="28.38" y2="103.27" stroke="#8a9aa0" stroke-width="0.35"/>
<line x1="23.11" y1="99.22" x2="21.10" y2="98.31" stroke="#8a9aa0" stroke-width="0.35"/>
<line x1="21.87" y1="101.95" x2="19.87" y2="101.04" stroke="#8a9aa0" stroke-width="0.35"/>
<line x1="16.87" y1="95.10" x2="15.46" y2="93.42" stroke="#8a9aa0" stroke-width="0.35"/>
<line x1="14.57" y1="97.03" x2="13.16" y2="95.34" stroke="#8a9aa0" stroke-width="0.35"/>
<line x1="13.04" y1="88.69" x2="12.49" y2="86.56" stroke="#8a9aa0" stroke-width="0.35"/>
<line x1="10.13" y1="89.43" x2="9.59" y2="87.30" stroke="#8a9aa0" stroke-width="0.35"/>
<line x1="12.37" y1="81.25" x2="12.80" y2="79.09" stroke="#8a9aa0" stroke-width="0.35"/>
<line x1="9.43" y1="80.65" x2="9.86" y2="78.50" stroke="#8a9aa0" stroke-width="0.35"/>
<line x1="14.99" y1="74.26" x2="16.32" y2="72.50" stroke="#8a9aa0" stroke-width="0.35"/>
<line x1="12.60" y1="72.44" x2="13.93" y2="70.69" stroke="#8a9aa0" stroke-width="0.35"/>
<line x1="20.39" y1="69.09" x2="22.35" y2="68.09" stroke="#8a9aa0" stroke-width="0.35"/>
<line x1="19.02" y1="66.42" x2="20.98" y2="65.42" stroke="#8a9aa0" stroke-width="0.35"/>
<line x1="27.49" y1="66.78" x2="29.69" y2="66.73" stroke="#8a9aa0" stroke-width="0.35"/>
<line x1="27.42" y1="63.78" x2="29.62" y2="63.73" stroke="#8a9aa0" stroke-width="0.35"/>
<line x1="34.89" y1="67.78" x2="36.90" y2="68.69" stroke="#8a9aa0" stroke-width="0.35"/>
<line x1="36.13" y1="65.05" x2="38.13" y2="65.96" stroke="#8a9aa0" stroke-width="0.35"/>
<line x1="41.13" y1="71.90" x2="42.54" y2="73.58" stroke="#8a9aa0" stroke-width="0.35"/>
<line x1="43.43" y1="69.97" x2="44.84" y2="71.66" stroke="#8a9aa0" stroke-width="0.35"/>
<line x1="44.96" y1="78.31" x2="45.51" y2="80.44" stroke="#8a9aa0" stroke-width="0.35"/>
<line x1="47.87" y1="77.57" x2="48.41" y2="79.70" stroke="#8a9aa0" stroke-width="0.35"/>
<circle cx="29" cy="83.5" r="14.5" fill="#fff" stroke="#666" stroke-width="0.7"/>
<text x="29.4" y="86.40" font-size="13.5" text-anchor="middle" fill="#111">A</text>
<circle cx="27" cy="58.5" r="3.3" fill="url(#gRed)" stroke="#9a1018" stroke-width="0.45"/>
<circle cx="12" cy="64.8" r="3.3" fill="url(#gRed)" stroke="#9a1018" stroke-width="0.45"/>
<circle cx="51.7" cy="71.8" r="3.3" fill="url(#gRed)" stroke="#9a1018" stroke-width="0.45"/>
<circle cx="17" cy="105.3" r="3.3" fill="url(#gRed)" stroke="#9a1018" stroke-width="0.45"/>
<circle cx="38" cy="76.2" r="3.3" fill="url(#gRed)" stroke="#9a1018" stroke-width="0.45"/>
<circle cx="20.6" cy="91.1" r="3.3" fill="url(#gRed)" stroke="#9a1018" stroke-width="0.45"/>
<circle cx="41.1" cy="61.6" r="3.2" fill="url(#gBlue)" stroke="#1d6485" stroke-width="0.45"/>
<circle cx="4.7" cy="75.2" r="3.2" fill="url(#gBlue)" stroke="#1d6485" stroke-width="0.45"/>
<circle cx="3.6" cy="86.1" r="3.2" fill="url(#gBlue)" stroke="#1d6485" stroke-width="0.45"/>
<circle cx="6.8" cy="95.4" r="3.2" fill="url(#gBlue)" stroke="#1d6485" stroke-width="0.45"/>
<circle cx="54.3" cy="84" r="3.2" fill="url(#gBlue)" stroke="#1d6485" stroke-width="0.45"/>
<circle cx="51.7" cy="94.4" r="3.2" fill="url(#gBlue)" stroke="#1d6485" stroke-width="0.45"/>
<circle cx="42.6" cy="104.3" r="3.2" fill="url(#gBlue)" stroke="#1d6485" stroke-width="0.45"/>
<circle cx="18.7" cy="78.5" r="3.2" fill="url(#gBlue)" stroke="#1d6485" stroke-width="0.45"/>
<circle cx="41.4" cy="83" r="3.2" fill="url(#gBlue)" stroke="#1d6485" stroke-width="0.45"/>
<path d="M -9.6,5.6 C -9.4,-1.5 -5.4,-9.3 0,-9.3 C 5.6,-9.3 9.0,-1.5 9.8,9.0 C 9.6,9.6 9.0,9.6 8.6,9.0 C 7.2,5.2 4.4,-2.2 -0.3,-2.2 C -4.4,-2.2 -6.8,3.0 -8.6,6.2 C -9.0,6.8 -9.6,6.6 -9.6,5.6 Z" transform="matrix(0.6969 0.2689 -0.1640 0.7243 41.97 58.74)" fill="#cfea2c" stroke="#b8d020" stroke-width="0.3"/>
<path d="M -9.6,5.6 C -9.4,-1.5 -5.4,-9.3 0,-9.3 C 5.6,-9.3 9.0,-1.5 9.8,9.0 C 9.6,9.6 9.0,9.6 8.6,9.0 C 7.2,5.2 4.4,-2.2 -0.3,-2.2 C -4.4,-2.2 -6.8,3.0 -8.6,6.2 C -9.0,6.8 -9.6,6.6 -9.6,5.6 Z" transform="matrix(0.8385 -0.3356 -0.5850 -0.5831 47.06 108.08)" fill="#cfea2c" stroke="#b8d020" stroke-width="0.3"/>
<polygon points="50.56,46.00 56.40,40.89 57.73,42.47 62.68,36.50 64.61,37.87 71.60,29.20 67.57,39.52 65.69,38.80 60.52,46.99 58.98,46.26 55.84,51.80" fill="#cfea2c" stroke="#9ab010" stroke-width="0.5" stroke-linejoin="miter"/>
<polygon points="54.70,66.51 61.39,61.40 62.72,63.20 68.50,57.08 70.51,58.70 78.70,49.80 73.59,60.70 71.61,59.79 65.42,68.30 63.81,67.40 60.00,73.19" fill="#f51c1c" stroke="#a01010" stroke-width="0.5" stroke-linejoin="miter"/>
<g transform="translate(72.4,37.8) rotate(36)" font-weight="bold" fill="#000"><text x="0" y="0" font-size="11.6">G<tspan dy="2.6">CC</tspan></text></g>
<text x="7.0" y="128.9" font-size="11.8" fill="#4aa2bc" stroke="#4aa2bc" stroke-width="0.35" textLength="46.4" lengthAdjust="spacingAndGlyphs">1% POPS</text>
<polygon points="108.8,75.3 131.6,75.3 131.6,71.39999999999999 143.7,78.1 131.6,84.8 131.6,80.89999999999999 108.8,80.89999999999999" fill="#333"/>
<path d="M -1.5,-9.6 C 1,-9.8 3.6,-7.6 5.2,-5.4 C 6.2,-4.4 7.6,-4.2 7.4,-3.4 C 7.2,-2.4 5.2,-1.4 4.4,-0.2 C 3.6,1.5 3.6,5.5 3.3,8.0 C 3.1,9.2 1.6,9.6 0.7,9.4 C 0.9,7.5 0.6,5 -0.4,3.6 C -1.2,3.0 -3.2,4.2 -4.8,5.6 C -5.6,6.3 -6.8,7.0 -7.1,6.5 C -7.2,4.5 -6.6,-1.0 -5.6,-3.9 C -4.9,-6.2 -3.8,-9.0 -1.5,-9.6 Z" transform="translate(122.0,64.3) scale(0.8)" fill="url(#gOsh2)"/>
<circle cx="209.6" cy="84" r="22.3" fill="#c9c9c9" stroke="#888" stroke-width="0.7"/>
<line x1="226.53" y1="86.31" x2="226.09" y2="88.47" stroke="#8a9aa0" stroke-width="0.35"/>
<line x1="229.47" y1="86.91" x2="229.03" y2="89.06" stroke="#8a9aa0" stroke-width="0.35"/>
<line x1="223.85" y1="93.43" x2="222.52" y2="95.18" stroke="#8a9aa0" stroke-width="0.35"/>
<line x1="226.24" y1="95.24" x2="224.91" y2="96.99" stroke="#8a9aa0" stroke-width="0.35"/>
<line x1="218.35" y1="98.68" x2="216.39" y2="99.68" stroke="#8a9aa0" stroke-width="0.35"/>
<line x1="219.72" y1="101.35" x2="217.76" y2="102.35" stroke="#8a9aa0" stroke-width="0.35"/>
<line x1="211.12" y1="101.02" x2="208.92" y2="101.07" stroke="#8a9aa0" stroke-width="0.35"/>
<line x1="211.19" y1="104.02" x2="208.99" y2="104.07" stroke="#8a9aa0" stroke-width="0.35"/>
<line x1="203.58" y1="99.99" x2="201.58" y2="99.08" stroke="#8a9aa0" stroke-width="0.35"/>
<line x1="202.35" y1="102.72" x2="200.34" y2="101.82" stroke="#8a9aa0" stroke-width="0.35"/>
<line x1="197.24" y1="95.80" x2="195.83" y2="94.11" stroke="#8a9aa0" stroke-width="0.35"/>
<line x1="194.94" y1="97.72" x2="193.53" y2="96.04" stroke="#8a9aa0" stroke-width="0.35"/>
<line x1="193.35" y1="89.26" x2="192.80" y2="87.13" stroke="#8a9aa0" stroke-width="0.35"/>
<line x1="190.44" y1="90.00" x2="189.90" y2="87.87" stroke="#8a9aa0" stroke-width="0.35"/>
<line x1="192.67" y1="81.69" x2="193.11" y2="79.53" stroke="#8a9aa0" stroke-width="0.35"/>
<line x1="189.73" y1="81.09" x2="190.17" y2="78.94" stroke="#8a9aa0" stroke-width="0.35"/>
<line x1="195.35" y1="74.57" x2="196.68" y2="72.82" stroke="#8a9aa0" stroke-width="0.35"/>
<line x1="192.96" y1="72.76" x2="194.29" y2="71.01" stroke="#8a9aa0" stroke-width="0.35"/>
<line x1="200.85" y1="69.32" x2="202.81" y2="68.32" stroke="#8a9aa0" stroke-width="0.35"/>
<line x1="199.48" y1="66.65" x2="201.44" y2="65.65" stroke="#8a9aa0" stroke-width="0.35"/>
<line x1="208.08" y1="66.98" x2="210.28" y2="66.93" stroke="#8a9aa0" stroke-width="0.35"/>
<line x1="208.01" y1="63.98" x2="210.21" y2="63.93" stroke="#8a9aa0" stroke-width="0.35"/>
<line x1="215.62" y1="68.01" x2="217.62" y2="68.92" stroke="#8a9aa0" stroke-width="0.35"/>
<line x1="216.85" y1="65.28" x2="218.86" y2="66.18" stroke="#8a9aa0" stroke-width="0.35"/>
<line x1="221.96" y1="72.20" x2="223.37" y2="73.89" stroke="#8a9aa0" stroke-width="0.35"/>
<line x1="224.26" y1="70.28" x2="225.67" y2="71.96" stroke="#8a9aa0" stroke-width="0.35"/>
<line x1="225.85" y1="78.74" x2="226.40" y2="80.87" stroke="#8a9aa0" stroke-width="0.35"/>
<line x1="228.76" y1="78.00" x2="229.30" y2="80.13" stroke="#8a9aa0" stroke-width="0.35"/>
<circle cx="209.6" cy="84" r="14.8" fill="#fff" stroke="#888" stroke-width="0.7"/>
<text x="209.6" y="88.10" font-size="13.5" text-anchor="middle" fill="#111">A</text>
<circle cx="192.3" cy="65" r="3.3" fill="url(#gRed)" stroke="#9a1018" stroke-width="0.45"/>
<circle cx="211.1" cy="60.2" r="3.3" fill="url(#gRed)" stroke="#9a1018" stroke-width="0.45"/>
<circle cx="228.6" cy="66.9" r="3.3" fill="url(#gRed)" stroke="#9a1018" stroke-width="0.45"/>
<circle cx="197.7" cy="105.8" r="3.3" fill="url(#gRed)" stroke="#9a1018" stroke-width="0.45"/>
<circle cx="219.1" cy="77.6" r="3.3" fill="url(#gRed)" stroke="#9a1018" stroke-width="0.45"/>
<circle cx="201.3" cy="92.1" r="3.3" fill="url(#gRed)" stroke="#9a1018" stroke-width="0.45"/>
<circle cx="198.9" cy="78.4" r="3.2" fill="url(#gBlue)" stroke="#1d6485" stroke-width="0.45"/>
<circle cx="221.1" cy="85.9" r="3.2" fill="url(#gBlue)" stroke="#1d6485" stroke-width="0.45"/>
<polygon points="232.00,59.41 238.80,54.20 240.16,56.04 246.04,49.81 248.07,51.46 256.40,42.40 251.21,53.49 249.20,52.57 242.90,61.22 241.27,60.31 237.40,66.19" fill="#f51c1c" stroke="#a01010" stroke-width="0.5" stroke-linejoin="miter"/>
<path d="M -9.6,5.6 C -9.4,-1.5 -5.4,-9.3 0,-9.3 C 5.6,-9.3 9.0,-1.5 9.8,9.0 C 9.6,9.6 9.0,9.6 8.6,9.0 C 7.2,5.2 4.4,-2.2 -0.3,-2.2 C -4.4,-2.2 -6.8,3.0 -8.6,6.2 C -9.0,6.8 -9.6,6.6 -9.6,5.6 Z" transform="matrix(0.5483 -0.6154 -0.7932 -0.2750 243.22 109.64)" fill="#cfea2c" stroke="#b8d020" stroke-width="0.3"/>
<polygon points="254.62,116.63 258.79,123.06 257.06,124.14 262.20,129.83 260.60,131.53 268.10,139.60 258.56,134.19 259.53,132.46 252.24,126.23 253.17,124.84 248.18,120.97" fill="#cfea2c" stroke="#9ab010" stroke-width="0.5" stroke-linejoin="miter"/>
<g transform="translate(194.4,43) rotate(-20.3) scale(1.0)">
<path d="M -11.4,-10.2 C -11.2,-11.8 -10.3,-12.6 -9.2,-12.4 C -7.8,-12.1 -6.2,-11.2 -4.7,-11.0 C -3.2,-10.9 -1.5,-12.2 -0.2,-12.1 C 1.2,-11.9 1.9,-10.6 1.9,-9.3 C 1.9,-7.8 1.7,-6.6 2.5,-5.6 C 3.8,-4.0 5.8,-2.2 6.6,-0.9 C 6.9,-0.2 6.7,0.5 6.1,0.9 L 4.4,1.9 C 4.6,0.2 4.0,-1.8 3.0,-2.6 A 3.3,3.3 0 0 0 -2.9,-1.6 C -3.1,-0.4 -2.9,0.8 -2.9,1.6 C -2.9,2.6 -3.2,3.5 -3.6,3.9 C -4.2,3.9 -4.8,3.5 -5.2,3.0 C -6.4,1.2 -7.6,-1.5 -8.6,-3.5 C -9.7,-5.6 -11.0,-7.8 -11.4,-10.2 Z" fill="url(#gOsh)"/>
</g>
<circle cx="194.4" cy="43" r="3.6" fill="#fff" stroke="#9aa" stroke-width="0.4"/>
<circle cx="194.4" cy="43" r="2.7" fill="url(#gBlue)"/>
<g transform="translate(225.3,32.4) rotate(261.8) scale(1.0)">
<path d="M -11.4,-10.2 C -11.2,-11.8 -10.3,-12.6 -9.2,-12.4 C -7.8,-12.1 -6.2,-11.2 -4.7,-11.0 C -3.2,-10.9 -1.5,-12.2 -0.2,-12.1 C 1.2,-11.9 1.9,-10.6 1.9,-9.3 C 1.9,-7.8 1.7,-6.6 2.5,-5.6 C 3.8,-4.0 5.8,-2.2 6.6,-0.9 C 6.9,-0.2 6.7,0.5 6.1,0.9 L 4.4,1.9 C 4.6,0.2 4.0,-1.8 3.0,-2.6 A 3.3,3.3 0 0 0 -2.9,-1.6 C -3.1,-0.4 -2.9,0.8 -2.9,1.6 C -2.9,2.6 -3.2,3.5 -3.6,3.9 C -4.2,3.9 -4.8,3.5 -5.2,3.0 C -6.4,1.2 -7.6,-1.5 -8.6,-3.5 C -9.7,-5.6 -11.0,-7.8 -11.4,-10.2 Z" fill="url(#gOsh)"/>
</g>
<circle cx="225.3" cy="32.4" r="3.6" fill="#fff" stroke="#9aa" stroke-width="0.4"/>
<circle cx="225.3" cy="32.4" r="2.7" fill="url(#gBlue)"/>
<g transform="translate(254.4,34) rotate(116.4) scale(1.0)">
<path d="M -11.4,-10.2 C -11.2,-11.8 -10.3,-12.6 -9.2,-12.4 C -7.8,-12.1 -6.2,-11.2 -4.7,-11.0 C -3.2,-10.9 -1.5,-12.2 -0.2,-12.1 C 1.2,-11.9 1.9,-10.6 1.9,-9.3 C 1.9,-7.8 1.7,-6.6 2.5,-5.6 C 3.8,-4.0 5.8,-2.2 6.6,-0.9 C 6.9,-0.2 6.7,0.5 6.1,0.9 L 4.4,1.9 C 4.6,0.2 4.0,-1.8 3.0,-2.6 A 3.3,3.3 0 0 0 -2.9,-1.6 C -3.1,-0.4 -2.9,0.8 -2.9,1.6 C -2.9,2.6 -3.2,3.5 -3.6,3.9 C -4.2,3.9 -4.8,3.5 -5.2,3.0 C -6.4,1.2 -7.6,-1.5 -8.6,-3.5 C -9.7,-5.6 -11.0,-7.8 -11.4,-10.2 Z" fill="url(#gOsh)"/>
</g>
<circle cx="254.4" cy="34" r="3.6" fill="#fff" stroke="#9aa" stroke-width="0.4"/>
<circle cx="254.4" cy="34" r="2.7" fill="url(#gBlue)"/>
<g transform="translate(278.8,78) rotate(0.1) scale(1.0)">
<path d="M -11.4,-10.2 C -11.2,-11.8 -10.3,-12.6 -9.2,-12.4 C -7.8,-12.1 -6.2,-11.2 -4.7,-11.0 C -3.2,-10.9 -1.5,-12.2 -0.2,-12.1 C 1.2,-11.9 1.9,-10.6 1.9,-9.3 C 1.9,-7.8 1.7,-6.6 2.5,-5.6 C 3.8,-4.0 5.8,-2.2 6.6,-0.9 C 6.9,-0.2 6.7,0.5 6.1,0.9 L 4.4,1.9 C 4.6,0.2 4.0,-1.8 3.0,-2.6 A 3.3,3.3 0 0 0 -2.9,-1.6 C -3.1,-0.4 -2.9,0.8 -2.9,1.6 C -2.9,2.6 -3.2,3.5 -3.6,3.9 C -4.2,3.9 -4.8,3.5 -5.2,3.0 C -6.4,1.2 -7.6,-1.5 -8.6,-3.5 C -9.7,-5.6 -11.0,-7.8 -11.4,-10.2 Z" fill="url(#gOsh)"/>
</g>
<circle cx="278.8" cy="78" r="3.6" fill="#fff" stroke="#9aa" stroke-width="0.4"/>
<circle cx="278.8" cy="78" r="2.7" fill="url(#gBlue)"/>
<g transform="translate(260.7,89.9) rotate(19.7) scale(1.0)">
<path d="M -11.4,-10.2 C -11.2,-11.8 -10.3,-12.6 -9.2,-12.4 C -7.8,-12.1 -6.2,-11.2 -4.7,-11.0 C -3.2,-10.9 -1.5,-12.2 -0.2,-12.1 C 1.2,-11.9 1.9,-10.6 1.9,-9.3 C 1.9,-7.8 1.7,-6.6 2.5,-5.6 C 3.8,-4.0 5.8,-2.2 6.6,-0.9 C 6.9,-0.2 6.7,0.5 6.1,0.9 L 4.4,1.9 C 4.6,0.2 4.0,-1.8 3.0,-2.6 A 3.3,3.3 0 0 0 -2.9,-1.6 C -3.1,-0.4 -2.9,0.8 -2.9,1.6 C -2.9,2.6 -3.2,3.5 -3.6,3.9 C -4.2,3.9 -4.8,3.5 -5.2,3.0 C -6.4,1.2 -7.6,-1.5 -8.6,-3.5 C -9.7,-5.6 -11.0,-7.8 -11.4,-10.2 Z" fill="url(#gOsh)"/>
</g>
<circle cx="260.7" cy="89.9" r="3.6" fill="#fff" stroke="#9aa" stroke-width="0.4"/>
<circle cx="260.7" cy="89.9" r="2.7" fill="url(#gBlue)"/>
<g transform="translate(181,100.7) rotate(-23.2) scale(1.0)">
<path d="M -11.4,-10.2 C -11.2,-11.8 -10.3,-12.6 -9.2,-12.4 C -7.8,-12.1 -6.2,-11.2 -4.7,-11.0 C -3.2,-10.9 -1.5,-12.2 -0.2,-12.1 C 1.2,-11.9 1.9,-10.6 1.9,-9.3 C 1.9,-7.8 1.7,-6.6 2.5,-5.6 C 3.8,-4.0 5.8,-2.2 6.6,-0.9 C 6.9,-0.2 6.7,0.5 6.1,0.9 L 4.4,1.9 C 4.6,0.2 4.0,-1.8 3.0,-2.6 A 3.3,3.3 0 0 0 -2.9,-1.6 C -3.1,-0.4 -2.9,0.8 -2.9,1.6 C -2.9,2.6 -3.2,3.5 -3.6,3.9 C -4.2,3.9 -4.8,3.5 -5.2,3.0 C -6.4,1.2 -7.6,-1.5 -8.6,-3.5 C -9.7,-5.6 -11.0,-7.8 -11.4,-10.2 Z" fill="url(#gOsh)"/>
</g>
<circle cx="181" cy="100.7" r="3.6" fill="#fff" stroke="#9aa" stroke-width="0.4"/>
<circle cx="181" cy="100.7" r="2.7" fill="url(#gBlue)"/>
<g transform="translate(210.2,123.6) rotate(71.5) scale(1.0)">
<path d="M -11.4,-10.2 C -11.2,-11.8 -10.3,-12.6 -9.2,-12.4 C -7.8,-12.1 -6.2,-11.2 -4.7,-11.0 C -3.2,-10.9 -1.5,-12.2 -0.2,-12.1 C 1.2,-11.9 1.9,-10.6 1.9,-9.3 C 1.9,-7.8 1.7,-6.6 2.5,-5.6 C 3.8,-4.0 5.8,-2.2 6.6,-0.9 C 6.9,-0.2 6.7,0.5 6.1,0.9 L 4.4,1.9 C 4.6,0.2 4.0,-1.8 3.0,-2.6 A 3.3,3.3 0 0 0 -2.9,-1.6 C -3.1,-0.4 -2.9,0.8 -2.9,1.6 C -2.9,2.6 -3.2,3.5 -3.6,3.9 C -4.2,3.9 -4.8,3.5 -5.2,3.0 C -6.4,1.2 -7.6,-1.5 -8.6,-3.5 C -9.7,-5.6 -11.0,-7.8 -11.4,-10.2 Z" fill="url(#gOsh)"/>
</g>
<circle cx="210.2" cy="123.6" r="3.6" fill="#fff" stroke="#9aa" stroke-width="0.4"/>
<circle cx="210.2" cy="123.6" r="2.7" fill="url(#gBlue)"/>
<circle cx="30" cy="265.3" r="22.2" fill="#d6f2f7" stroke="#666" stroke-width="0.7"/>
<line x1="46.97" y1="267.62" x2="46.53" y2="269.77" stroke="#8a9aa0" stroke-width="0.35"/>
<line x1="49.83" y1="268.20" x2="49.39" y2="270.35" stroke="#8a9aa0" stroke-width="0.35"/>
<line x1="44.28" y1="274.75" x2="42.95" y2="276.50" stroke="#8a9aa0" stroke-width="0.35"/>
<line x1="46.61" y1="276.51" x2="45.28" y2="278.27" stroke="#8a9aa0" stroke-width="0.35"/>
<line x1="38.77" y1="280.01" x2="36.81" y2="281.01" stroke="#8a9aa0" stroke-width="0.35"/>
<line x1="40.10" y1="282.61" x2="38.14" y2="283.61" stroke="#8a9aa0" stroke-width="0.35"/>
<line x1="31.52" y1="282.36" x2="29.32" y2="282.41" stroke="#8a9aa0" stroke-width="0.35"/>
<line x1="31.59" y1="285.28" x2="29.39" y2="285.33" stroke="#8a9aa0" stroke-width="0.35"/>
<line x1="23.97" y1="281.33" x2="21.96" y2="280.42" stroke="#8a9aa0" stroke-width="0.35"/>
<line x1="22.76" y1="283.99" x2="20.76" y2="283.08" stroke="#8a9aa0" stroke-width="0.35"/>
<line x1="17.61" y1="277.12" x2="16.20" y2="275.44" stroke="#8a9aa0" stroke-width="0.35"/>
<line x1="15.37" y1="279.00" x2="13.96" y2="277.31" stroke="#8a9aa0" stroke-width="0.35"/>
<line x1="13.71" y1="270.57" x2="13.17" y2="268.44" stroke="#8a9aa0" stroke-width="0.35"/>
<line x1="10.88" y1="271.29" x2="10.34" y2="269.16" stroke="#8a9aa0" stroke-width="0.35"/>
<line x1="13.03" y1="262.98" x2="13.47" y2="260.83" stroke="#8a9aa0" stroke-width="0.35"/>
<line x1="10.17" y1="262.40" x2="10.61" y2="260.25" stroke="#8a9aa0" stroke-width="0.35"/>
<line x1="15.72" y1="255.85" x2="17.05" y2="254.10" stroke="#8a9aa0" stroke-width="0.35"/>
<line x1="13.39" y1="254.09" x2="14.72" y2="252.33" stroke="#8a9aa0" stroke-width="0.35"/>
<line x1="21.23" y1="250.59" x2="23.19" y2="249.59" stroke="#8a9aa0" stroke-width="0.35"/>
<line x1="19.90" y1="247.99" x2="21.86" y2="246.99" stroke="#8a9aa0" stroke-width="0.35"/>
<line x1="28.48" y1="248.24" x2="30.68" y2="248.19" stroke="#8a9aa0" stroke-width="0.35"/>
<line x1="28.41" y1="245.32" x2="30.61" y2="245.27" stroke="#8a9aa0" stroke-width="0.35"/>
<line x1="36.03" y1="249.27" x2="38.04" y2="250.18" stroke="#8a9aa0" stroke-width="0.35"/>
<line x1="37.24" y1="246.61" x2="39.24" y2="247.52" stroke="#8a9aa0" stroke-width="0.35"/>
<line x1="42.39" y1="253.48" x2="43.80" y2="255.16" stroke="#8a9aa0" stroke-width="0.35"/>
<line x1="44.63" y1="251.60" x2="46.04" y2="253.29" stroke="#8a9aa0" stroke-width="0.35"/>
<line x1="46.29" y1="260.03" x2="46.83" y2="262.16" stroke="#8a9aa0" stroke-width="0.35"/>
<line x1="49.12" y1="259.31" x2="49.66" y2="261.44" stroke="#8a9aa0" stroke-width="0.35"/>
<circle cx="30" cy="265.3" r="14.9" fill="#fff" stroke="#666" stroke-width="0.7"/>
<text x="30" y="270.16" font-size="13.5" text-anchor="middle" fill="#111">A</text>
<circle cx="28.6" cy="240.2" r="3.2" fill="url(#gBlue)" stroke="#1d6485" stroke-width="0.45"/>
<circle cx="3.6" cy="261.8" r="3.2" fill="url(#gBlue)" stroke="#1d6485" stroke-width="0.45"/>
<circle cx="55.6" cy="259.8" r="3.2" fill="url(#gBlue)" stroke="#1d6485" stroke-width="0.45"/>
<circle cx="5" cy="274" r="3.2" fill="url(#gBlue)" stroke="#1d6485" stroke-width="0.45"/>
<circle cx="52.8" cy="277.6" r="3.2" fill="url(#gBlue)" stroke="#1d6485" stroke-width="0.45"/>
<circle cx="10.4" cy="282" r="3.2" fill="url(#gBlue)" stroke="#1d6485" stroke-width="0.45"/>
<circle cx="30.7" cy="290.1" r="3.2" fill="url(#gBlue)" stroke="#1d6485" stroke-width="0.45"/>
<circle cx="43.7" cy="286" r="3.2" fill="url(#gBlue)" stroke="#1d6485" stroke-width="0.45"/>
<circle cx="18.2" cy="262.3" r="3.2" fill="url(#gBlue)" stroke="#1d6485" stroke-width="0.45"/>
<circle cx="41.6" cy="266.7" r="3.2" fill="url(#gBlue)" stroke="#1d6485" stroke-width="0.45"/>
<circle cx="12.5" cy="247" r="3.3" fill="url(#gRed)" stroke="#9a1018" stroke-width="0.45"/>
<circle cx="44.2" cy="244.6" r="3.3" fill="url(#gRed)" stroke="#9a1018" stroke-width="0.45"/>
<circle cx="56.2" cy="270.2" r="3.3" fill="url(#gRed)" stroke="#9a1018" stroke-width="0.45"/>
<circle cx="17.7" cy="287.2" r="3.3" fill="url(#gRed)" stroke="#9a1018" stroke-width="0.45"/>
<circle cx="40" cy="259.1" r="3.3" fill="url(#gRed)" stroke="#9a1018" stroke-width="0.45"/>
<circle cx="21.3" cy="272.7" r="3.3" fill="url(#gRed)" stroke="#9a1018" stroke-width="0.45"/>
<path d="M -9.6,5.6 C -9.4,-1.5 -5.4,-9.3 0,-9.3 C 5.6,-9.3 9.0,-1.5 9.8,9.0 C 9.6,9.6 9.0,9.6 8.6,9.0 C 7.2,5.2 4.4,-2.2 -0.3,-2.2 C -4.4,-2.2 -6.8,3.0 -8.6,6.2 C -9.0,6.8 -9.6,6.6 -9.6,5.6 Z" transform="matrix(0.8144 -0.0184 0.0078 0.7728 28.57 234.79)" fill="#cfea2c" stroke="#b8d020" stroke-width="0.3"/>
<path d="M -9.6,5.6 C -9.4,-1.5 -5.4,-9.3 0,-9.3 C 5.6,-9.3 9.0,-1.5 9.8,9.0 C 9.6,9.6 9.0,9.6 8.6,9.0 C 7.2,5.2 4.4,-2.2 -0.3,-2.2 C -4.4,-2.2 -6.8,3.0 -8.6,6.2 C -9.0,6.8 -9.6,6.6 -9.6,5.6 Z" transform="matrix(0.8519 -0.3183 -0.5112 -0.5918 47.75 290.00)" fill="#cfea2c" stroke="#b8d020" stroke-width="0.3"/>
<polygon points="28.69,222.53 32.11,215.86 33.87,216.80 36.19,209.66 38.41,210.20 41.60,199.90 41.66,210.63 39.72,210.65 38.00,219.87 36.36,219.76 35.51,225.87" fill="#cfea2c" stroke="#9ab010" stroke-width="0.5" stroke-linejoin="miter"/>
<polygon points="43.47,237.97 47.61,231.08 49.43,232.21 52.41,224.75 54.76,225.48 58.90,214.70 58.20,226.17 56.12,226.06 53.62,235.79 51.87,235.56 50.53,242.03" fill="#f51c1c" stroke="#a01010" stroke-width="0.5" stroke-linejoin="miter"/>
<g font-weight="bold" fill="#000"><text x="45.8" y="206.4" font-size="14">G</text><text x="55.0" y="213.9" font-size="13.8">CC</text></g>
<text x="3.8" y="314.5" font-size="11.8" fill="#4aa2bc" stroke="#4aa2bc" stroke-width="0.35" textLength="47.9" lengthAdjust="spacingAndGlyphs">1% POPS</text>
<text x="78.3" y="196.2" font-size="17.5" fill="#000">1)</text>
<polygon points="112.1,186.5 135.5,186.5 135.5,182.9 147.6,189.3 135.5,195.70000000000002 135.5,192.10000000000002 112.1,192.10000000000002" fill="#333"/>
<path d="M -1.5,-9.6 C 1,-9.8 3.6,-7.6 5.2,-5.4 C 6.2,-4.4 7.6,-4.2 7.4,-3.4 C 7.2,-2.4 5.2,-1.4 4.4,-0.2 C 3.6,1.5 3.6,5.5 3.3,8.0 C 3.1,9.2 1.6,9.6 0.7,9.4 C 0.9,7.5 0.6,5 -0.4,3.6 C -1.2,3.0 -3.2,4.2 -4.8,5.6 C -5.6,6.3 -6.8,7.0 -7.1,6.5 C -7.2,4.5 -6.6,-1.0 -5.6,-3.9 C -4.9,-6.2 -3.8,-9.0 -1.5,-9.6 Z" transform="translate(127.0,176.7) scale(0.82)" fill="url(#gOsh2)"/>
<circle cx="127.8" cy="216.8" r="16.2" fill="#d2d2d2" stroke="#999" stroke-width="0.7"/>
<line x1="140.33" y1="218.22" x2="139.89" y2="220.37" stroke="#8a9aa0" stroke-width="0.35"/>
<line x1="142.37" y1="218.63" x2="141.93" y2="220.79" stroke="#8a9aa0" stroke-width="0.35"/>
<line x1="138.47" y1="223.51" x2="137.14" y2="225.27" stroke="#8a9aa0" stroke-width="0.35"/>
<line x1="140.13" y1="224.77" x2="138.80" y2="226.52" stroke="#8a9aa0" stroke-width="0.35"/>
<line x1="134.50" y1="227.48" x2="132.54" y2="228.48" stroke="#8a9aa0" stroke-width="0.35"/>
<line x1="135.45" y1="229.33" x2="133.49" y2="230.33" stroke="#8a9aa0" stroke-width="0.35"/>
<line x1="129.21" y1="229.33" x2="127.01" y2="229.38" stroke="#8a9aa0" stroke-width="0.35"/>
<line x1="129.26" y1="231.41" x2="127.06" y2="231.46" stroke="#8a9aa0" stroke-width="0.35"/>
<line x1="123.63" y1="228.70" x2="121.63" y2="227.79" stroke="#8a9aa0" stroke-width="0.35"/>
<line x1="122.77" y1="230.59" x2="120.77" y2="229.69" stroke="#8a9aa0" stroke-width="0.35"/>
<line x1="118.88" y1="225.71" x2="117.47" y2="224.03" stroke="#8a9aa0" stroke-width="0.35"/>
<line x1="117.29" y1="227.05" x2="115.87" y2="225.36" stroke="#8a9aa0" stroke-width="0.35"/>
<line x1="115.90" y1="220.96" x2="115.36" y2="218.83" stroke="#8a9aa0" stroke-width="0.35"/>
<line x1="113.88" y1="221.47" x2="113.34" y2="219.34" stroke="#8a9aa0" stroke-width="0.35"/>
<line x1="115.27" y1="215.38" x2="115.71" y2="213.23" stroke="#8a9aa0" stroke-width="0.35"/>
<line x1="113.23" y1="214.97" x2="113.67" y2="212.81" stroke="#8a9aa0" stroke-width="0.35"/>
<line x1="117.13" y1="210.09" x2="118.46" y2="208.33" stroke="#8a9aa0" stroke-width="0.35"/>
<line x1="115.47" y1="208.83" x2="116.80" y2="207.08" stroke="#8a9aa0" stroke-width="0.35"/>
<line x1="121.10" y1="206.12" x2="123.06" y2="205.12" stroke="#8a9aa0" stroke-width="0.35"/>
<line x1="120.15" y1="204.27" x2="122.11" y2="203.27" stroke="#8a9aa0" stroke-width="0.35"/>
<line x1="126.39" y1="204.27" x2="128.59" y2="204.22" stroke="#8a9aa0" stroke-width="0.35"/>
<line x1="126.34" y1="202.19" x2="128.54" y2="202.14" stroke="#8a9aa0" stroke-width="0.35"/>
<line x1="131.97" y1="204.90" x2="133.97" y2="205.81" stroke="#8a9aa0" stroke-width="0.35"/>
<line x1="132.83" y1="203.01" x2="134.83" y2="203.91" stroke="#8a9aa0" stroke-width="0.35"/>
<line x1="136.72" y1="207.89" x2="138.13" y2="209.57" stroke="#8a9aa0" stroke-width="0.35"/>
<line x1="138.31" y1="206.55" x2="139.73" y2="208.24" stroke="#8a9aa0" stroke-width="0.35"/>
<line x1="139.70" y1="212.64" x2="140.24" y2="214.77" stroke="#8a9aa0" stroke-width="0.35"/>
<line x1="141.72" y1="212.13" x2="142.26" y2="214.26" stroke="#8a9aa0" stroke-width="0.35"/>
<circle cx="127.8" cy="216.8" r="11.0" fill="#fff" stroke="#999" stroke-width="0.7"/>
<text x="127.8" y="220.76" font-size="11" text-anchor="middle" fill="#111">B</text>
<circle cx="118.8" cy="200.1" r="2.4" fill="url(#gGray)"/>
<circle cx="129.5" cy="198.1" r="2.4" fill="url(#gGray)"/>
<circle cx="110.1" cy="208.8" r="2.4" fill="url(#gGray)"/>
<circle cx="126.2" cy="208.1" r="2.4" fill="url(#gGray)"/>
<circle cx="145.2" cy="209.8" r="2.4" fill="url(#gGray)"/>
<circle cx="109.4" cy="221.5" r="2.4" fill="url(#gGray)"/>
<circle cx="120.5" cy="221.2" r="2.4" fill="url(#gGray)"/>
<circle cx="134.2" cy="221.5" r="2.4" fill="url(#gGray)"/>
<circle cx="145.2" cy="222.4" r="2.4" fill="url(#gGray)"/>
<circle cx="121.5" cy="233.1" r="2.4" fill="url(#gGray)"/>
<circle cx="135.5" cy="232.2" r="2.4" fill="url(#gGray)"/>
<text x="84.6" y="248.8" font-size="9.3" fill="#2a2a2a" stroke="#2a2a2a" stroke-width="0.25" textLength="84.3" lengthAdjust="spacingAndGlyphs">POPC/POPE/POPG</text>
<text x="84.4" y="259.6" font-size="9.4" fill="#2a2a2a" stroke="#2a2a2a" stroke-width="0.25"><tspan textLength="77.2" lengthAdjust="spacingAndGlyphs">/POPA/soy PI/PIP</tspan><tspan font-size="6.6" dy="1.8">2</tspan></text>
<circle cx="215.8" cy="210.3" r="22.3" fill="#c9c9c9" stroke="#888" stroke-width="0.7"/>
<line x1="233.00" y1="212.66" x2="232.57" y2="214.82" stroke="#8a9aa0" stroke-width="0.35"/>
<line x1="235.79" y1="213.23" x2="235.35" y2="215.39" stroke="#8a9aa0" stroke-width="0.35"/>
<line x1="230.27" y1="219.89" x2="228.94" y2="221.65" stroke="#8a9aa0" stroke-width="0.35"/>
<line x1="232.54" y1="221.61" x2="231.21" y2="223.36" stroke="#8a9aa0" stroke-width="0.35"/>
<line x1="224.68" y1="225.22" x2="222.72" y2="226.23" stroke="#8a9aa0" stroke-width="0.35"/>
<line x1="225.97" y1="227.75" x2="224.01" y2="228.75" stroke="#8a9aa0" stroke-width="0.35"/>
<line x1="217.32" y1="227.60" x2="215.12" y2="227.65" stroke="#8a9aa0" stroke-width="0.35"/>
<line x1="217.39" y1="230.44" x2="215.19" y2="230.49" stroke="#8a9aa0" stroke-width="0.35"/>
<line x1="209.67" y1="226.55" x2="207.66" y2="225.64" stroke="#8a9aa0" stroke-width="0.35"/>
<line x1="208.50" y1="229.13" x2="206.49" y2="228.23" stroke="#8a9aa0" stroke-width="0.35"/>
<line x1="203.23" y1="222.28" x2="201.81" y2="220.59" stroke="#8a9aa0" stroke-width="0.35"/>
<line x1="201.05" y1="224.10" x2="199.64" y2="222.41" stroke="#8a9aa0" stroke-width="0.35"/>
<line x1="199.27" y1="215.63" x2="198.73" y2="213.50" stroke="#8a9aa0" stroke-width="0.35"/>
<line x1="196.52" y1="216.33" x2="195.98" y2="214.20" stroke="#8a9aa0" stroke-width="0.35"/>
<line x1="198.60" y1="207.94" x2="199.03" y2="205.78" stroke="#8a9aa0" stroke-width="0.35"/>
<line x1="195.81" y1="207.37" x2="196.25" y2="205.21" stroke="#8a9aa0" stroke-width="0.35"/>
<line x1="201.33" y1="200.71" x2="202.66" y2="198.95" stroke="#8a9aa0" stroke-width="0.35"/>
<line x1="199.06" y1="198.99" x2="200.39" y2="197.24" stroke="#8a9aa0" stroke-width="0.35"/>
<line x1="206.92" y1="195.38" x2="208.88" y2="194.37" stroke="#8a9aa0" stroke-width="0.35"/>
<line x1="205.63" y1="192.85" x2="207.59" y2="191.85" stroke="#8a9aa0" stroke-width="0.35"/>
<line x1="214.28" y1="193.00" x2="216.48" y2="192.95" stroke="#8a9aa0" stroke-width="0.35"/>
<line x1="214.21" y1="190.16" x2="216.41" y2="190.11" stroke="#8a9aa0" stroke-width="0.35"/>
<line x1="221.93" y1="194.05" x2="223.94" y2="194.96" stroke="#8a9aa0" stroke-width="0.35"/>
<line x1="223.10" y1="191.47" x2="225.11" y2="192.37" stroke="#8a9aa0" stroke-width="0.35"/>
<line x1="228.37" y1="198.32" x2="229.79" y2="200.01" stroke="#8a9aa0" stroke-width="0.35"/>
<line x1="230.55" y1="196.50" x2="231.96" y2="198.19" stroke="#8a9aa0" stroke-width="0.35"/>
<line x1="232.33" y1="204.97" x2="232.87" y2="207.10" stroke="#8a9aa0" stroke-width="0.35"/>
<line x1="235.08" y1="204.27" x2="235.62" y2="206.40" stroke="#8a9aa0" stroke-width="0.35"/>
<circle cx="215.8" cy="210.3" r="15.2" fill="#fff" stroke="#888" stroke-width="0.7"/>
<text x="215.9" y="216.00" font-size="13.5" text-anchor="middle" fill="#111">A</text>
<circle cx="198.3" cy="191.5" r="3.3" fill="url(#gRed)" stroke="#9a1018" stroke-width="0.45"/>
<circle cx="229.8" cy="189.1" r="3.3" fill="url(#gRed)" stroke="#9a1018" stroke-width="0.45"/>
<circle cx="237.3" cy="224.8" r="3.3" fill="url(#gRed)" stroke="#9a1018" stroke-width="0.45"/>
<circle cx="204" cy="232.5" r="3.3" fill="url(#gRed)" stroke="#9a1018" stroke-width="0.45"/>
<circle cx="227.4" cy="206.4" r="3.3" fill="url(#gRed)" stroke="#9a1018" stroke-width="0.45"/>
<circle cx="206" cy="216.8" r="3.3" fill="url(#gRed)" stroke="#9a1018" stroke-width="0.45"/>
<circle cx="206.9" cy="202.8" r="3.2" fill="url(#gBlue)" stroke="#1d6485" stroke-width="0.45"/>
<circle cx="225.6" cy="217.7" r="3.2" fill="url(#gBlue)" stroke="#1d6485" stroke-width="0.45"/>
<polygon points="230.29,184.34 234.49,177.68 236.25,178.83 239.33,171.59 241.61,172.36 245.90,161.90 244.96,173.11 242.93,172.96 240.27,182.42 238.56,182.16 237.11,188.46" fill="#f51c1c" stroke="#a01010" stroke-width="0.5" stroke-linejoin="miter"/>
<path d="M -9.6,5.6 C -9.4,-1.5 -5.4,-9.3 0,-9.3 C 5.6,-9.3 9.0,-1.5 9.8,9.0 C 9.6,9.6 9.0,9.6 8.6,9.0 C 7.2,5.2 4.4,-2.2 -0.3,-2.2 C -4.4,-2.2 -6.8,3.0 -8.6,6.2 C -9.0,6.8 -9.6,6.6 -9.6,5.6 Z" transform="matrix(0.8705 0.0988 -0.0421 -0.7811 268.61 222.54)" fill="#cfea2c" stroke="#b8d020" stroke-width="0.3"/>
<polygon points="282.07,224.01 288.51,227.24 287.62,228.94 294.49,231.09 293.99,233.24 303.90,236.20 293.61,236.36 293.57,234.49 284.71,232.92 284.80,231.35 278.93,230.59" fill="#cfea2c" stroke="#9ab010" stroke-width="0.5" stroke-linejoin="miter"/>
<g transform="translate(207.6,179) rotate(-28.8) scale(1.0)">
<path d="M -11.4,-10.2 C -11.2,-11.8 -10.3,-12.6 -9.2,-12.4 C -7.8,-12.1 -6.2,-11.2 -4.7,-11.0 C -3.2,-10.9 -1.5,-12.2 -0.2,-12.1 C 1.2,-11.9 1.9,-10.6 1.9,-9.3 C 1.9,-7.8 1.7,-6.6 2.5,-5.6 C 3.8,-4.0 5.8,-2.2 6.6,-0.9 C 6.9,-0.2 6.7,0.5 6.1,0.9 L 4.4,1.9 C 4.6,0.2 4.0,-1.8 3.0,-2.6 A 3.3,3.3 0 0 0 -2.9,-1.6 C -3.1,-0.4 -2.9,0.8 -2.9,1.6 C -2.9,2.6 -3.2,3.5 -3.6,3.9 C -4.2,3.9 -4.8,3.5 -5.2,3.0 C -6.4,1.2 -7.6,-1.5 -8.6,-3.5 C -9.7,-5.6 -11.0,-7.8 -11.4,-10.2 Z" fill="url(#gOsh)"/>
</g>
<circle cx="207.6" cy="179" r="3.6" fill="#fff" stroke="#9aa" stroke-width="0.4"/>
<circle cx="207.6" cy="179" r="2.7" fill="url(#gBlue)"/>
<g transform="translate(181.4,208.8) rotate(-6.0) scale(1.0)">
<path d="M -11.4,-10.2 C -11.2,-11.8 -10.3,-12.6 -9.2,-12.4 C -7.8,-12.1 -6.2,-11.2 -4.7,-11.0 C -3.2,-10.9 -1.5,-12.2 -0.2,-12.1 C 1.2,-11.9 1.9,-10.6 1.9,-9.3 C 1.9,-7.8 1.7,-6.6 2.5,-5.6 C 3.8,-4.0 5.8,-2.2 6.6,-0.9 C 6.9,-0.2 6.7,0.5 6.1,0.9 L 4.4,1.9 C 4.6,0.2 4.0,-1.8 3.0,-2.6 A 3.3,3.3 0 0 0 -2.9,-1.6 C -3.1,-0.4 -2.9,0.8 -2.9,1.6 C -2.9,2.6 -3.2,3.5 -3.6,3.9 C -4.2,3.9 -4.8,3.5 -5.2,3.0 C -6.4,1.2 -7.6,-1.5 -8.6,-3.5 C -9.7,-5.6 -11.0,-7.8 -11.4,-10.2 Z" fill="url(#gOsh)"/>
</g>
<circle cx="181.4" cy="208.8" r="3.6" fill="#fff" stroke="#9aa" stroke-width="0.4"/>
<circle cx="181.4" cy="208.8" r="2.7" fill="url(#gBlue)"/>
<g transform="translate(266,176.5) rotate(2.2) scale(1.0)">
<path d="M -11.4,-10.2 C -11.2,-11.8 -10.3,-12.6 -9.2,-12.4 C -7.8,-12.1 -6.2,-11.2 -4.7,-11.0 C -3.2,-10.9 -1.5,-12.2 -0.2,-12.1 C 1.2,-11.9 1.9,-10.6 1.9,-9.3 C 1.9,-7.8 1.7,-6.6 2.5,-5.6 C 3.8,-4.0 5.8,-2.2 6.6,-0.9 C 6.9,-0.2 6.7,0.5 6.1,0.9 L 4.4,1.9 C 4.6,0.2 4.0,-1.8 3.0,-2.6 A 3.3,3.3 0 0 0 -2.9,-1.6 C -3.1,-0.4 -2.9,0.8 -2.9,1.6 C -2.9,2.6 -3.2,3.5 -3.6,3.9 C -4.2,3.9 -4.8,3.5 -5.2,3.0 C -6.4,1.2 -7.6,-1.5 -8.6,-3.5 C -9.7,-5.6 -11.0,-7.8 -11.4,-10.2 Z" fill="url(#gOsh)"/>
</g>
<circle cx="266" cy="176.5" r="3.6" fill="#fff" stroke="#9aa" stroke-width="0.4"/>
<circle cx="266" cy="176.5" r="2.7" fill="url(#gBlue)"/>
<g transform="translate(249.2,200.3) rotate(115.9) scale(1.0)">
<path d="M -11.4,-10.2 C -11.2,-11.8 -10.3,-12.6 -9.2,-12.4 C -7.8,-12.1 -6.2,-11.2 -4.7,-11.0 C -3.2,-10.9 -1.5,-12.2 -0.2,-12.1 C 1.2,-11.9 1.9,-10.6 1.9,-9.3 C 1.9,-7.8 1.7,-6.6 2.5,-5.6 C 3.8,-4.0 5.8,-2.2 6.6,-0.9 C 6.9,-0.2 6.7,0.5 6.1,0.9 L 4.4,1.9 C 4.6,0.2 4.0,-1.8 3.0,-2.6 A 3.3,3.3 0 0 0 -2.9,-1.6 C -3.1,-0.4 -2.9,0.8 -2.9,1.6 C -2.9,2.6 -3.2,3.5 -3.6,3.9 C -4.2,3.9 -4.8,3.5 -5.2,3.0 C -6.4,1.2 -7.6,-1.5 -8.6,-3.5 C -9.7,-5.6 -11.0,-7.8 -11.4,-10.2 Z" fill="url(#gOsh)"/>
</g>
<circle cx="249.2" cy="200.3" r="3.6" fill="#fff" stroke="#9aa" stroke-width="0.4"/>
<circle cx="249.2" cy="200.3" r="2.7" fill="url(#gBlue)"/>
<g transform="translate(292.8,204.7) rotate(-5.4) scale(1.0)">
<path d="M -11.4,-10.2 C -11.2,-11.8 -10.3,-12.6 -9.2,-12.4 C -7.8,-12.1 -6.2,-11.2 -4.7,-11.0 C -3.2,-10.9 -1.5,-12.2 -0.2,-12.1 C 1.2,-11.9 1.9,-10.6 1.9,-9.3 C 1.9,-7.8 1.7,-6.6 2.5,-5.6 C 3.8,-4.0 5.8,-2.2 6.6,-0.9 C 6.9,-0.2 6.7,0.5 6.1,0.9 L 4.4,1.9 C 4.6,0.2 4.0,-1.8 3.0,-2.6 A 3.3,3.3 0 0 0 -2.9,-1.6 C -3.1,-0.4 -2.9,0.8 -2.9,1.6 C -2.9,2.6 -3.2,3.5 -3.6,3.9 C -4.2,3.9 -4.8,3.5 -5.2,3.0 C -6.4,1.2 -7.6,-1.5 -8.6,-3.5 C -9.7,-5.6 -11.0,-7.8 -11.4,-10.2 Z" fill="url(#gOsh)"/>
</g>
<circle cx="292.8" cy="204.7" r="3.6" fill="#fff" stroke="#9aa" stroke-width="0.4"/>
<circle cx="292.8" cy="204.7" r="2.7" fill="url(#gBlue)"/>
<g transform="translate(228.2,243.1) rotate(266.5) scale(1.0)">
<path d="M -11.4,-10.2 C -11.2,-11.8 -10.3,-12.6 -9.2,-12.4 C -7.8,-12.1 -6.2,-11.2 -4.7,-11.0 C -3.2,-10.9 -1.5,-12.2 -0.2,-12.1 C 1.2,-11.9 1.9,-10.6 1.9,-9.3 C 1.9,-7.8 1.7,-6.6 2.5,-5.6 C 3.8,-4.0 5.8,-2.2 6.6,-0.9 C 6.9,-0.2 6.7,0.5 6.1,0.9 L 4.4,1.9 C 4.6,0.2 4.0,-1.8 3.0,-2.6 A 3.3,3.3 0 0 0 -2.9,-1.6 C -3.1,-0.4 -2.9,0.8 -2.9,1.6 C -2.9,2.6 -3.2,3.5 -3.6,3.9 C -4.2,3.9 -4.8,3.5 -5.2,3.0 C -6.4,1.2 -7.6,-1.5 -8.6,-3.5 C -9.7,-5.6 -11.0,-7.8 -11.4,-10.2 Z" fill="url(#gOsh)"/>
</g>
<circle cx="228.2" cy="243.1" r="3.6" fill="#fff" stroke="#9aa" stroke-width="0.4"/>
<circle cx="228.2" cy="243.1" r="2.7" fill="url(#gBlue)"/>
<g transform="translate(264.7,248.5) rotate(-24.3) scale(1.0)">
<path d="M -11.4,-10.2 C -11.2,-11.8 -10.3,-12.6 -9.2,-12.4 C -7.8,-12.1 -6.2,-11.2 -4.7,-11.0 C -3.2,-10.9 -1.5,-12.2 -0.2,-12.1 C 1.2,-11.9 1.9,-10.6 1.9,-9.3 C 1.9,-7.8 1.7,-6.6 2.5,-5.6 C 3.8,-4.0 5.8,-2.2 6.6,-0.9 C 6.9,-0.2 6.7,0.5 6.1,0.9 L 4.4,1.9 C 4.6,0.2 4.0,-1.8 3.0,-2.6 A 3.3,3.3 0 0 0 -2.9,-1.6 C -3.1,-0.4 -2.9,0.8 -2.9,1.6 C -2.9,2.6 -3.2,3.5 -3.6,3.9 C -4.2,3.9 -4.8,3.5 -5.2,3.0 C -6.4,1.2 -7.6,-1.5 -8.6,-3.5 C -9.7,-5.6 -11.0,-7.8 -11.4,-10.2 Z" fill="url(#gOsh)"/>
</g>
<circle cx="264.7" cy="248.5" r="3.6" fill="#fff" stroke="#9aa" stroke-width="0.4"/>
<circle cx="264.7" cy="248.5" r="2.7" fill="url(#gBlue)"/>
<line x1="78.90" y1="268.20" x2="315.00" y2="268.20" stroke="#555" stroke-width="1.2" />
<text x="79.3" y="315.8" font-size="17.5" fill="#000">2)</text>
<polygon points="112.0,292.09999999999997 135.7,292.09999999999997 135.7,288.45 148.2,294.9 135.7,301.34999999999997 135.7,297.7 112.0,297.7" fill="#333"/>
<path d="M -1.5,-9.6 C 1,-9.8 3.6,-7.6 5.2,-5.4 C 6.2,-4.4 7.6,-4.2 7.4,-3.4 C 7.2,-2.4 5.2,-1.4 4.4,-0.2 C 3.6,1.5 3.6,5.5 3.3,8.0 C 3.1,9.2 1.6,9.6 0.7,9.4 C 0.9,7.5 0.6,5 -0.4,3.6 C -1.2,3.0 -3.2,4.2 -4.8,5.6 C -5.6,6.3 -6.8,7.0 -7.1,6.5 C -7.2,4.5 -6.6,-1.0 -5.6,-3.9 C -4.9,-6.2 -3.8,-9.0 -1.5,-9.6 Z" transform="translate(126.9,281.9) scale(0.78)" fill="url(#gOsh2)"/>
<circle cx="127.4" cy="319.7" r="16.2" fill="#f2f4c6" stroke="#c8cc90" stroke-width="0.7"/>
<line x1="139.93" y1="321.12" x2="139.49" y2="323.27" stroke="#8a9aa0" stroke-width="0.35"/>
<line x1="141.97" y1="321.53" x2="141.53" y2="323.69" stroke="#8a9aa0" stroke-width="0.35"/>
<line x1="138.07" y1="326.41" x2="136.74" y2="328.17" stroke="#8a9aa0" stroke-width="0.35"/>
<line x1="139.73" y1="327.67" x2="138.40" y2="329.42" stroke="#8a9aa0" stroke-width="0.35"/>
<line x1="134.10" y1="330.38" x2="132.14" y2="331.38" stroke="#8a9aa0" stroke-width="0.35"/>
<line x1="135.05" y1="332.23" x2="133.09" y2="333.23" stroke="#8a9aa0" stroke-width="0.35"/>
<line x1="128.81" y1="332.23" x2="126.61" y2="332.28" stroke="#8a9aa0" stroke-width="0.35"/>
<line x1="128.86" y1="334.31" x2="126.66" y2="334.36" stroke="#8a9aa0" stroke-width="0.35"/>
<line x1="123.23" y1="331.60" x2="121.23" y2="330.69" stroke="#8a9aa0" stroke-width="0.35"/>
<line x1="122.37" y1="333.49" x2="120.37" y2="332.59" stroke="#8a9aa0" stroke-width="0.35"/>
<line x1="118.48" y1="328.61" x2="117.07" y2="326.93" stroke="#8a9aa0" stroke-width="0.35"/>
<line x1="116.89" y1="329.95" x2="115.47" y2="328.26" stroke="#8a9aa0" stroke-width="0.35"/>
<line x1="115.50" y1="323.86" x2="114.96" y2="321.73" stroke="#8a9aa0" stroke-width="0.35"/>
<line x1="113.48" y1="324.37" x2="112.94" y2="322.24" stroke="#8a9aa0" stroke-width="0.35"/>
<line x1="114.87" y1="318.28" x2="115.31" y2="316.13" stroke="#8a9aa0" stroke-width="0.35"/>
<line x1="112.83" y1="317.87" x2="113.27" y2="315.71" stroke="#8a9aa0" stroke-width="0.35"/>
<line x1="116.73" y1="312.99" x2="118.06" y2="311.23" stroke="#8a9aa0" stroke-width="0.35"/>
<line x1="115.07" y1="311.73" x2="116.40" y2="309.98" stroke="#8a9aa0" stroke-width="0.35"/>
<line x1="120.70" y1="309.02" x2="122.66" y2="308.02" stroke="#8a9aa0" stroke-width="0.35"/>
<line x1="119.75" y1="307.17" x2="121.71" y2="306.17" stroke="#8a9aa0" stroke-width="0.35"/>
<line x1="125.99" y1="307.17" x2="128.19" y2="307.12" stroke="#8a9aa0" stroke-width="0.35"/>
<line x1="125.94" y1="305.09" x2="128.14" y2="305.04" stroke="#8a9aa0" stroke-width="0.35"/>
<line x1="131.57" y1="307.80" x2="133.57" y2="308.71" stroke="#8a9aa0" stroke-width="0.35"/>
<line x1="132.43" y1="305.91" x2="134.43" y2="306.81" stroke="#8a9aa0" stroke-width="0.35"/>
<line x1="136.32" y1="310.79" x2="137.73" y2="312.47" stroke="#8a9aa0" stroke-width="0.35"/>
<line x1="137.91" y1="309.45" x2="139.33" y2="311.14" stroke="#8a9aa0" stroke-width="0.35"/>
<line x1="139.30" y1="315.54" x2="139.84" y2="317.67" stroke="#8a9aa0" stroke-width="0.35"/>
<line x1="141.32" y1="315.03" x2="141.86" y2="317.16" stroke="#8a9aa0" stroke-width="0.35"/>
<circle cx="127.4" cy="319.7" r="11.0" fill="#fff" stroke="#c8cc90" stroke-width="0.7"/>
<text x="127.5" y="323.30" font-size="11" text-anchor="middle" fill="#111">B</text>
<circle cx="122.6" cy="302.2" r="2.25" fill="url(#gYel)"/>
<circle cx="121.77" cy="299.16" r="0.8" fill="#333"/>
<circle cx="137.3" cy="304.4" r="2.25" fill="url(#gYel)"/>
<circle cx="139.01" cy="301.76" r="0.8" fill="#333"/>
<circle cx="111.8" cy="309.7" r="2.25" fill="url(#gYel)"/>
<circle cx="109.15" cy="308.00" r="0.8" fill="#333"/>
<circle cx="121.9" cy="312" r="2.25" fill="url(#gYel)"/>
<circle cx="120.07" cy="309.44" r="0.8" fill="#333"/>
<circle cx="135.4" cy="314.4" r="2.25" fill="url(#gYel)"/>
<circle cx="138.03" cy="312.66" r="0.8" fill="#333"/>
<circle cx="144.2" cy="311.8" r="2.25" fill="url(#gYel)"/>
<circle cx="147.05" cy="310.46" r="0.8" fill="#333"/>
<circle cx="108.8" cy="317.6" r="2.25" fill="url(#gYel)"/>
<circle cx="105.67" cy="317.25" r="0.8" fill="#333"/>
<circle cx="119.3" cy="319.7" r="2.25" fill="url(#gYel)"/>
<circle cx="116.15" cy="319.70" r="0.8" fill="#333"/>
<circle cx="145.9" cy="322.3" r="2.25" fill="url(#gYel)"/>
<circle cx="149.02" cy="322.74" r="0.8" fill="#333"/>
<circle cx="132.4" cy="326.5" r="2.25" fill="url(#gYel)"/>
<circle cx="134.27" cy="329.04" r="0.8" fill="#333"/>
<circle cx="142.5" cy="329.8" r="2.25" fill="url(#gYel)"/>
<circle cx="145.12" cy="331.55" r="0.8" fill="#333"/>
<circle cx="114.9" cy="332.8" r="2.25" fill="url(#gYel)"/>
<circle cx="112.73" cy="335.08" r="0.8" fill="#333"/>
<circle cx="131.1" cy="336.7" r="2.25" fill="url(#gYel)"/>
<circle cx="131.77" cy="339.78" r="0.8" fill="#333"/>
<text x="118.4" y="349.6" font-size="9.4" fill="#8b8a3a" font-weight="bold" textLength="19.8" lengthAdjust="spacingAndGlyphs">PI4P</text>
<circle cx="216.9" cy="309.4" r="22.7" fill="#d6f2f7" stroke="#666" stroke-width="0.7"/>
<line x1="234.22" y1="311.79" x2="233.78" y2="313.94" stroke="#8a9aa0" stroke-width="0.35"/>
<line x1="237.16" y1="312.38" x2="236.72" y2="314.54" stroke="#8a9aa0" stroke-width="0.35"/>
<line x1="231.47" y1="319.07" x2="230.14" y2="320.82" stroke="#8a9aa0" stroke-width="0.35"/>
<line x1="233.86" y1="320.88" x2="232.53" y2="322.63" stroke="#8a9aa0" stroke-width="0.35"/>
<line x1="225.83" y1="324.43" x2="223.87" y2="325.43" stroke="#8a9aa0" stroke-width="0.35"/>
<line x1="227.20" y1="327.10" x2="225.24" y2="328.10" stroke="#8a9aa0" stroke-width="0.35"/>
<line x1="218.43" y1="326.82" x2="216.23" y2="326.87" stroke="#8a9aa0" stroke-width="0.35"/>
<line x1="218.50" y1="329.82" x2="216.30" y2="329.87" stroke="#8a9aa0" stroke-width="0.35"/>
<line x1="210.72" y1="325.75" x2="208.71" y2="324.85" stroke="#8a9aa0" stroke-width="0.35"/>
<line x1="209.48" y1="328.49" x2="207.48" y2="327.58" stroke="#8a9aa0" stroke-width="0.35"/>
<line x1="204.23" y1="321.45" x2="202.82" y2="319.77" stroke="#8a9aa0" stroke-width="0.35"/>
<line x1="201.93" y1="323.38" x2="200.52" y2="321.69" stroke="#8a9aa0" stroke-width="0.35"/>
<line x1="200.26" y1="314.76" x2="199.72" y2="312.63" stroke="#8a9aa0" stroke-width="0.35"/>
<line x1="197.35" y1="315.50" x2="196.81" y2="313.37" stroke="#8a9aa0" stroke-width="0.35"/>
<line x1="199.58" y1="307.01" x2="200.02" y2="304.86" stroke="#8a9aa0" stroke-width="0.35"/>
<line x1="196.64" y1="306.42" x2="197.08" y2="304.26" stroke="#8a9aa0" stroke-width="0.35"/>
<line x1="202.33" y1="299.73" x2="203.66" y2="297.98" stroke="#8a9aa0" stroke-width="0.35"/>
<line x1="199.94" y1="297.92" x2="201.27" y2="296.17" stroke="#8a9aa0" stroke-width="0.35"/>
<line x1="207.97" y1="294.37" x2="209.93" y2="293.37" stroke="#8a9aa0" stroke-width="0.35"/>
<line x1="206.60" y1="291.70" x2="208.56" y2="290.70" stroke="#8a9aa0" stroke-width="0.35"/>
<line x1="215.37" y1="291.98" x2="217.57" y2="291.93" stroke="#8a9aa0" stroke-width="0.35"/>
<line x1="215.30" y1="288.98" x2="217.50" y2="288.93" stroke="#8a9aa0" stroke-width="0.35"/>
<line x1="223.08" y1="293.05" x2="225.09" y2="293.95" stroke="#8a9aa0" stroke-width="0.35"/>
<line x1="224.32" y1="290.31" x2="226.32" y2="291.22" stroke="#8a9aa0" stroke-width="0.35"/>
<line x1="229.57" y1="297.35" x2="230.98" y2="299.03" stroke="#8a9aa0" stroke-width="0.35"/>
<line x1="231.87" y1="295.42" x2="233.28" y2="297.11" stroke="#8a9aa0" stroke-width="0.35"/>
<line x1="233.54" y1="304.04" x2="234.08" y2="306.17" stroke="#8a9aa0" stroke-width="0.35"/>
<line x1="236.45" y1="303.30" x2="236.99" y2="305.43" stroke="#8a9aa0" stroke-width="0.35"/>
<circle cx="216.9" cy="309.4" r="15.2" fill="#fff" stroke="#666" stroke-width="0.7"/>
<text x="216.4" y="312.90" font-size="13.5" text-anchor="middle" fill="#111">A</text>
<circle cx="208" cy="284.9" r="3.2" fill="url(#gBlue)" stroke="#1d6485" stroke-width="0.45"/>
<circle cx="220.3" cy="284" r="3.2" fill="url(#gBlue)" stroke="#1d6485" stroke-width="0.45"/>
<circle cx="234" cy="289.6" r="3.2" fill="url(#gBlue)" stroke="#1d6485" stroke-width="0.45"/>
<circle cx="191.8" cy="316.6" r="3.2" fill="url(#gBlue)" stroke="#1d6485" stroke-width="0.45"/>
<circle cx="196.9" cy="325.6" r="3.2" fill="url(#gBlue)" stroke="#1d6485" stroke-width="0.45"/>
<circle cx="230.4" cy="330" r="3.2" fill="url(#gBlue)" stroke="#1d6485" stroke-width="0.45"/>
<circle cx="208.4" cy="300" r="3.2" fill="url(#gBlue)" stroke="#1d6485" stroke-width="0.45"/>
<circle cx="220.3" cy="320" r="3.2" fill="url(#gBlue)" stroke="#1d6485" stroke-width="0.45"/>
<circle cx="199.5" cy="290" r="3.3" fill="url(#gRed)" stroke="#9a1018" stroke-width="0.45"/>
<circle cx="242.3" cy="301.5" r="3.3" fill="url(#gRed)" stroke="#9a1018" stroke-width="0.45"/>
<circle cx="242.5" cy="314" r="3.3" fill="url(#gRed)" stroke="#9a1018" stroke-width="0.45"/>
<circle cx="204.8" cy="331.2" r="3.3" fill="url(#gRed)" stroke="#9a1018" stroke-width="0.45"/>
<circle cx="205.2" cy="313" r="3.3" fill="url(#gRed)" stroke="#9a1018" stroke-width="0.45"/>
<circle cx="229" cy="310.7" r="3.3" fill="url(#gRed)" stroke="#9a1018" stroke-width="0.45"/>
<circle cx="191.2" cy="302.3" r="3.0" fill="url(#gYel)"/>
<circle cx="187.44" cy="301.26" r="0.8" fill="#333"/>
<circle cx="238.5" cy="323.3" r="3.0" fill="url(#gYel)"/>
<circle cx="241.78" cy="325.41" r="0.8" fill="#333"/>
<circle cx="217.1" cy="334" r="3.0" fill="url(#gYel)"/>
<circle cx="217.13" cy="337.90" r="0.8" fill="#333"/>
<path d="M -9.6,5.6 C -9.4,-1.5 -5.4,-9.3 0,-9.3 C 5.6,-9.3 9.0,-1.5 9.8,9.0 C 9.6,9.6 9.0,9.6 8.6,9.0 C 7.2,5.2 4.4,-2.2 -0.3,-2.2 C -4.4,-2.2 -6.8,3.0 -8.6,6.2 C -9.0,6.8 -9.6,6.6 -9.6,5.6 Z" transform="matrix(0.6254 0.4255 -0.6010 0.5807 238.21 286.40)" fill="#cfea2c" stroke="#b8d020" stroke-width="0.3"/>
<polygon points="245.25,279.83 250.57,277.45 251.18,278.88 256.06,275.68 257.15,277.09 264.10,272.40 258.91,278.93 257.72,278.00 252.19,282.75 251.25,281.88 247.75,285.17" fill="#cfea2c" stroke="#9ab010" stroke-width="0.5" stroke-linejoin="miter"/>
<polygon points="247.16,295.29 253.15,292.95 253.74,294.56 259.28,291.29 260.41,292.90 268.30,288.10 262.25,295.02 260.99,293.93 254.65,298.87 253.66,297.87 249.64,301.31" fill="#f51c1c" stroke="#a01010" stroke-width="0.5" stroke-linejoin="miter"/>
<g transform="translate(262.6,280.6) rotate(22)" font-weight="bold" fill="#000"><text x="0" y="0" font-size="11.0">G<tspan dy="2.4">CC</tspan></text></g>
<g transform="translate(184.5,336) rotate(-35.1) scale(1.0)">
<path d="M -11.4,-10.2 C -11.2,-11.8 -10.3,-12.6 -9.2,-12.4 C -7.8,-12.1 -6.2,-11.2 -4.7,-11.0 C -3.2,-10.9 -1.5,-12.2 -0.2,-12.1 C 1.2,-11.9 1.9,-10.6 1.9,-9.3 C 1.9,-7.8 1.7,-6.6 2.5,-5.6 C 3.8,-4.0 5.8,-2.2 6.6,-0.9 C 6.9,-0.2 6.7,0.5 6.1,0.9 L 4.4,1.9 C 4.6,0.2 4.0,-1.8 3.0,-2.6 A 3.3,3.3 0 0 0 -2.9,-1.6 C -3.1,-0.4 -2.9,0.8 -2.9,1.6 C -2.9,2.6 -3.2,3.5 -3.6,3.9 C -4.2,3.9 -4.8,3.5 -5.2,3.0 C -6.4,1.2 -7.6,-1.5 -8.6,-3.5 C -9.7,-5.6 -11.0,-7.8 -11.4,-10.2 Z" fill="url(#gOsh)"/>
</g>
<circle cx="184.5" cy="336" r="3.6" fill="#fff" stroke="#9aa" stroke-width="0.4"/>
<circle cx="184.5" cy="336" r="2.8" fill="url(#gYel)"/>
<g transform="translate(228.4,346.2) rotate(162.1) scale(1.0)">
<path d="M -11.4,-10.2 C -11.2,-11.8 -10.3,-12.6 -9.2,-12.4 C -7.8,-12.1 -6.2,-11.2 -4.7,-11.0 C -3.2,-10.9 -1.5,-12.2 -0.2,-12.1 C 1.2,-11.9 1.9,-10.6 1.9,-9.3 C 1.9,-7.8 1.7,-6.6 2.5,-5.6 C 3.8,-4.0 5.8,-2.2 6.6,-0.9 C 6.9,-0.2 6.7,0.5 6.1,0.9 L 4.4,1.9 C 4.6,0.2 4.0,-1.8 3.0,-2.6 A 3.3,3.3 0 0 0 -2.9,-1.6 C -3.1,-0.4 -2.9,0.8 -2.9,1.6 C -2.9,2.6 -3.2,3.5 -3.6,3.9 C -4.2,3.9 -4.8,3.5 -5.2,3.0 C -6.4,1.2 -7.6,-1.5 -8.6,-3.5 C -9.7,-5.6 -11.0,-7.8 -11.4,-10.2 Z" fill="url(#gOsh)"/>
</g>
<circle cx="228.4" cy="346.2" r="3.6" fill="#fff" stroke="#9aa" stroke-width="0.4"/>
<circle cx="228.4" cy="346.2" r="2.8" fill="url(#gYel)"/>
<g transform="translate(262.3,338.7) rotate(92.5) scale(1.0)">
<path d="M -11.4,-10.2 C -11.2,-11.8 -10.3,-12.6 -9.2,-12.4 C -7.8,-12.1 -6.2,-11.2 -4.7,-11.0 C -3.2,-10.9 -1.5,-12.2 -0.2,-12.1 C 1.2,-11.9 1.9,-10.6 1.9,-9.3 C 1.9,-7.8 1.7,-6.6 2.5,-5.6 C 3.8,-4.0 5.8,-2.2 6.6,-0.9 C 6.9,-0.2 6.7,0.5 6.1,0.9 L 4.4,1.9 C 4.6,0.2 4.0,-1.8 3.0,-2.6 A 3.3,3.3 0 0 0 -2.9,-1.6 C -3.1,-0.4 -2.9,0.8 -2.9,1.6 C -2.9,2.6 -3.2,3.5 -3.6,3.9 C -4.2,3.9 -4.8,3.5 -5.2,3.0 C -6.4,1.2 -7.6,-1.5 -8.6,-3.5 C -9.7,-5.6 -11.0,-7.8 -11.4,-10.2 Z" fill="url(#gOsh)"/>
</g>
<circle cx="262.3" cy="338.7" r="3.6" fill="#fff" stroke="#9aa" stroke-width="0.4"/>
<circle cx="262.3" cy="338.7" r="2.8" fill="url(#gYel)"/>
<g transform="translate(292.7,336) rotate(47.3) scale(1.0)">
<path d="M -11.4,-10.2 C -11.2,-11.8 -10.3,-12.6 -9.2,-12.4 C -7.8,-12.1 -6.2,-11.2 -4.7,-11.0 C -3.2,-10.9 -1.5,-12.2 -0.2,-12.1 C 1.2,-11.9 1.9,-10.6 1.9,-9.3 C 1.9,-7.8 1.7,-6.6 2.5,-5.6 C 3.8,-4.0 5.8,-2.2 6.6,-0.9 C 6.9,-0.2 6.7,0.5 6.1,0.9 L 4.4,1.9 C 4.6,0.2 4.0,-1.8 3.0,-2.6 A 3.3,3.3 0 0 0 -2.9,-1.6 C -3.1,-0.4 -2.9,0.8 -2.9,1.6 C -2.9,2.6 -3.2,3.5 -3.6,3.9 C -4.2,3.9 -4.8,3.5 -5.2,3.0 C -6.4,1.2 -7.6,-1.5 -8.6,-3.5 C -9.7,-5.6 -11.0,-7.8 -11.4,-10.2 Z" fill="url(#gOsh)"/>
</g>
<circle cx="292.7" cy="336" r="3.6" fill="#fff" stroke="#9aa" stroke-width="0.4"/>
<circle cx="292.7" cy="336" r="2.8" fill="url(#gYel)"/>
<g transform="translate(294.8,309.8) rotate(-25.3) scale(1.0)">
<path d="M -11.4,-10.2 C -11.2,-11.8 -10.3,-12.6 -9.2,-12.4 C -7.8,-12.1 -6.2,-11.2 -4.7,-11.0 C -3.2,-10.9 -1.5,-12.2 -0.2,-12.1 C 1.2,-11.9 1.9,-10.6 1.9,-9.3 C 1.9,-7.8 1.7,-6.6 2.5,-5.6 C 3.8,-4.0 5.8,-2.2 6.6,-0.9 C 6.9,-0.2 6.7,0.5 6.1,0.9 L 4.4,1.9 C 4.6,0.2 4.0,-1.8 3.0,-2.6 A 3.3,3.3 0 0 0 -2.9,-1.6 C -3.1,-0.4 -2.9,0.8 -2.9,1.6 C -2.9,2.6 -3.2,3.5 -3.6,3.9 C -4.2,3.9 -4.8,3.5 -5.2,3.0 C -6.4,1.2 -7.6,-1.5 -8.6,-3.5 C -9.7,-5.6 -11.0,-7.8 -11.4,-10.2 Z" fill="url(#gOsh)"/>
</g>
<circle cx="294.8" cy="309.8" r="3.6" fill="#fff" stroke="#9aa" stroke-width="0.4"/>
<circle cx="294.8" cy="309.8" r="2.7" fill="url(#gBlue)"/>
<path d="M -1.5,-9.6 C 1,-9.8 3.6,-7.6 5.2,-5.4 C 6.2,-4.4 7.6,-4.2 7.4,-3.4 C 7.2,-2.4 5.2,-1.4 4.4,-0.2 C 3.6,1.5 3.6,5.5 3.3,8.0 C 3.1,9.2 1.6,9.6 0.7,9.4 C 0.9,7.5 0.6,5 -0.4,3.6 C -1.2,3.0 -3.2,4.2 -4.8,5.6 C -5.6,6.3 -6.8,7.0 -7.1,6.5 C -7.2,4.5 -6.6,-1.0 -5.6,-3.9 C -4.9,-6.2 -3.8,-9.0 -1.5,-9.6 Z" transform="translate(22.5,365.8) scale(1.0)" fill="url(#gOsh2)"/>
<text x="34.3" y="368.8" font-size="13.2" fill="#111" textLength="34.6" lengthAdjust="spacingAndGlyphs">Osh6</text>
<path d="M -9.6,5.6 C -9.4,-1.5 -5.4,-9.3 0,-9.3 C 5.6,-9.3 9.0,-1.5 9.8,9.0 C 9.6,9.6 9.0,9.6 8.6,9.0 C 7.2,5.2 4.4,-2.2 -0.3,-2.2 C -4.4,-2.2 -6.8,3.0 -8.6,6.2 C -9.0,6.8 -9.6,6.6 -9.6,5.6 Z" transform="matrix(1.0153 -0.0027 0.0030 0.9852 22.93 386.46)" fill="#cfea2c" stroke="#b8d020" stroke-width="0.3"/>
<text x="34.8" y="390.7" font-size="12.8" fill="#111">C2<tspan font-size="8.8" dy="2.3">Lact</tspan><tspan dy="-2.3">-CFP</tspan></text>
<circle cx="18.8" cy="401.5" r="4.0" fill="url(#gBlue)" stroke="#2a86b0" stroke-width="0.3"/>
<path d="M21.5,404.3 L24.6,409.3 M22.7,405.8 L20.8,408.8" stroke="#777" stroke-width="0.5" fill="none"/>
<text x="36.9" y="407.7" font-size="13" fill="#111" textLength="16.3" lengthAdjust="spacingAndGlyphs">PS</text>
<circle cx="116.4" cy="372.7" r="4.2" fill="url(#gRed)" stroke="#c01820" stroke-width="0.3"/>
<path d="M119,375.5 L122,380 M120.2,377 L118.5,379.8" stroke="#777" stroke-width="0.5" fill="none"/>
<text x="125.0" y="377.8" font-size="12.2" fill="#111" textLength="24.0" lengthAdjust="spacingAndGlyphs">DiD</text>
<polygon points="116.4,384.6 120.2,386.7 120.2,390.9 116.4,393 112.6,390.9 112.6,386.7" fill="url(#gYel)" stroke="#c8b020" stroke-width="0.3"/>
<circle cx="115.3" cy="383.6" r="1.3" fill="#333"/>
<path d="M119,391.5 L122.5,396 M120.2,393.2 L118.8,396" stroke="#777" stroke-width="0.5" fill="none"/>
<text x="125.0" y="393.4" font-size="12.2" fill="#111" textLength="28.4" lengthAdjust="spacingAndGlyphs">PI4P</text>
<circle cx="116.2" cy="403.3" r="4.0" fill="url(#gGray)"/>
<path d="M118.8,406 L121.8,410.5 M120,407.6 L118.5,410.5" stroke="#777" stroke-width="0.5" fill="none"/>
<text x="125.0" y="409.6" font-size="12.6" fill="#111"><tspan textLength="185.5" lengthAdjust="spacingAndGlyphs">POPE/POPG/POPA/soy PI/PIP</tspan><tspan font-size="8.8" dy="2.4">2</tspan></text>
</svg></body></html>
